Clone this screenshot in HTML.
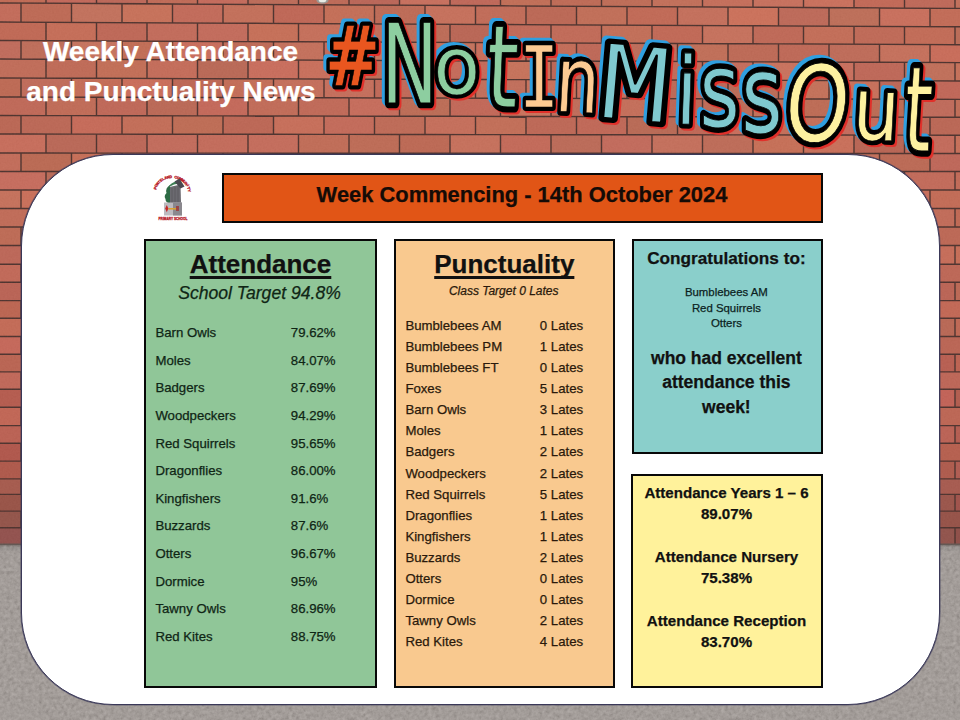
<!DOCTYPE html>
<html><head><meta charset="utf-8"><title>Weekly Attendance and Punctuality News</title>
<style>
html,body{margin:0;padding:0;}
body{width:960px;height:720px;overflow:hidden;position:relative;background:#8f8885;font-family:"Liberation Sans",sans-serif;}
.t{position:absolute;white-space:nowrap;line-height:1;-webkit-text-stroke:0.25px currentColor;}
.t u{text-decoration-thickness:2.5px;text-underline-offset:3px;text-decoration-skip-ink:none;}
#bg{position:absolute;left:0;top:0;}
#panel{position:absolute;left:21px;top:154px;width:917px;height:549px;background:#fff;border:1px solid #3a3858;border-radius:92px;box-shadow:0 0 0 0.6px rgba(58,56,88,0.6);}
.box{position:absolute;box-sizing:border-box;border:2.3px solid #080808;}
#logo{position:absolute;left:0;top:0;}
</style></head><body>
<svg id="bg" width="960" height="720" viewBox="0 0 960 720">
<rect x="0" y="0" width="960" height="545" fill="#482b26"/>
<polygon points="-54.3,-14.8 -5.2,-14.8 -5.2,2.3 -54.3,2.3" fill="rgb(192,103,81)"/><polygon points="-3.8,-14.8 45.3,-14.5 45.3,2.6 -3.8,2.3" fill="rgb(193,102,79)"/><polygon points="46.7,-14.5 95.8,-14.2 95.8,2.8 46.7,2.6" fill="rgb(195,100,85)"/><polygon points="97.2,-14.2 146.3,-13.9 146.3,3.1 97.2,2.8" fill="rgb(189,99,83)"/><polygon points="147.7,-13.9 196.8,-13.6 196.8,3.4 147.7,3.1" fill="rgb(192,102,81)"/><polygon points="198.2,-13.6 247.3,-13.3 247.3,3.7 198.2,3.4" fill="rgb(197,102,86)"/><polygon points="248.7,-13.2 297.8,-12.9 297.8,4.0 248.7,3.7" fill="rgb(188,103,83)"/><polygon points="299.2,-12.9 348.3,-12.6 348.3,4.3 299.2,4.0" fill="rgb(190,101,81)"/><polygon points="349.7,-12.6 398.8,-12.3 398.8,4.5 349.7,4.3" fill="rgb(187,97,82)"/><polygon points="400.2,-12.3 449.3,-12.0 449.3,4.8 400.2,4.6" fill="rgb(200,107,88)"/><polygon points="450.7,-12.0 499.8,-11.7 499.8,5.1 450.7,4.8" fill="rgb(192,99,83)"/><polygon points="501.2,-11.7 550.3,-11.4 550.3,5.4 501.2,5.1" fill="rgb(194,106,81)"/><polygon points="551.7,-11.4 600.8,-11.0 600.8,5.7 551.7,5.4" fill="rgb(191,102,80)"/><polygon points="602.2,-11.0 651.3,-10.7 651.3,6.0 602.2,5.7" fill="rgb(191,104,81)"/><polygon points="652.7,-10.7 701.8,-10.4 701.8,6.2 652.7,6.0" fill="rgb(195,107,84)"/><polygon points="703.2,-10.4 752.3,-10.1 752.3,6.5 703.2,6.3" fill="rgb(198,106,85)"/><polygon points="753.7,-10.1 802.8,-9.8 802.8,6.8 753.7,6.5" fill="rgb(200,108,88)"/><polygon points="804.2,-9.8 853.3,-9.5 853.3,7.1 804.2,6.8" fill="rgb(203,108,87)"/><polygon points="854.7,-9.5 903.8,-9.1 903.8,7.4 854.7,7.1" fill="rgb(195,100,81)"/><polygon points="905.2,-9.1 954.3,-8.8 954.3,7.7 905.2,7.4" fill="rgb(191,100,83)"/><polygon points="955.7,-8.8 1004.8,-8.5 1004.8,8.0 955.7,7.7" fill="rgb(195,107,85)"/><polygon points="-79.3,3.7 -30.2,3.7 -30.2,21.3 -79.3,21.3" fill="rgb(193,100,80)"/><polygon points="-28.8,3.7 20.3,3.8 20.3,21.4 -28.8,21.3" fill="rgb(196,103,84)"/><polygon points="21.7,3.8 70.8,4.1 70.8,21.7 21.7,21.4" fill="rgb(190,101,79)"/><polygon points="72.2,4.1 121.3,4.4 121.3,21.9 72.2,21.7" fill="rgb(195,109,87)"/><polygon points="122.7,4.4 171.8,4.7 171.8,22.2 122.7,21.9" fill="rgb(200,109,84)"/><polygon points="173.2,4.7 222.3,5.0 222.3,22.4 173.2,22.2" fill="rgb(195,102,84)"/><polygon points="223.7,5.0 272.8,5.2 272.8,22.7 223.7,22.4" fill="rgb(196,107,84)"/><polygon points="274.2,5.2 323.3,5.5 323.3,22.9 274.2,22.7" fill="rgb(192,98,80)"/><polygon points="324.7,5.5 373.8,5.8 373.8,23.2 324.7,22.9" fill="rgb(197,106,81)"/><polygon points="375.2,5.8 424.3,6.1 424.3,23.4 375.2,23.2" fill="rgb(190,102,80)"/><polygon points="425.7,6.1 474.8,6.4 474.8,23.7 425.7,23.4" fill="rgb(199,108,86)"/><polygon points="476.2,6.4 525.3,6.7 525.3,23.9 476.2,23.7" fill="rgb(194,103,82)"/><polygon points="526.7,6.7 575.8,6.9 575.8,24.2 526.7,23.9" fill="rgb(188,99,79)"/><polygon points="577.2,6.9 626.3,7.2 626.3,24.4 577.2,24.2" fill="rgb(194,106,82)"/><polygon points="627.7,7.2 676.8,7.5 676.8,24.7 627.7,24.4" fill="rgb(194,101,80)"/><polygon points="678.2,7.5 727.3,7.8 727.3,24.9 678.2,24.7" fill="rgb(197,107,86)"/><polygon points="728.7,7.8 777.8,8.1 777.8,25.2 728.7,24.9" fill="rgb(205,109,85)"/><polygon points="779.2,8.1 828.3,8.4 828.3,25.4 779.2,25.2" fill="rgb(190,101,83)"/><polygon points="829.7,8.4 878.8,8.6 878.8,25.7 829.7,25.4" fill="rgb(190,106,83)"/><polygon points="880.2,8.7 929.3,8.9 929.3,25.9 880.2,25.7" fill="rgb(202,107,87)"/><polygon points="930.7,8.9 979.8,9.2 979.8,26.2 930.7,25.9" fill="rgb(195,103,81)"/><polygon points="-54.3,22.7 -5.2,22.7 -5.2,39.8 -54.3,39.8" fill="rgb(187,99,80)"/><polygon points="-3.8,22.7 45.3,22.9 45.3,40.0 -3.8,39.8" fill="rgb(193,100,79)"/><polygon points="46.7,22.9 95.8,23.2 95.8,40.2 46.7,40.0" fill="rgb(198,105,82)"/><polygon points="97.2,23.2 146.3,23.4 146.3,40.4 97.2,40.2" fill="rgb(191,99,81)"/><polygon points="147.7,23.4 196.8,23.7 196.8,40.7 147.7,40.4" fill="rgb(195,103,85)"/><polygon points="198.2,23.7 247.3,23.9 247.3,40.9 198.2,40.7" fill="rgb(196,103,86)"/><polygon points="248.7,23.9 297.8,24.2 297.8,41.1 248.7,40.9" fill="rgb(199,107,82)"/><polygon points="299.2,24.2 348.3,24.4 348.3,41.3 299.2,41.1" fill="rgb(198,107,85)"/><polygon points="349.7,24.4 398.8,24.7 398.8,41.5 349.7,41.3" fill="rgb(194,104,84)"/><polygon points="400.2,24.7 449.3,24.9 449.3,41.8 400.2,41.5" fill="rgb(189,103,81)"/><polygon points="450.7,24.9 499.8,25.2 499.8,42.0 450.7,41.8" fill="rgb(186,97,79)"/><polygon points="501.2,25.2 550.3,25.4 550.3,42.2 501.2,42.0" fill="rgb(193,101,83)"/><polygon points="551.7,25.5 600.8,25.7 600.8,42.4 551.7,42.2" fill="rgb(194,102,82)"/><polygon points="602.2,25.7 651.3,25.9 651.3,42.6 602.2,42.4" fill="rgb(195,106,82)"/><polygon points="652.7,26.0 701.8,26.2 701.8,42.9 652.7,42.6" fill="rgb(194,100,80)"/><polygon points="703.2,26.2 752.3,26.5 752.3,43.1 703.2,42.9" fill="rgb(199,109,87)"/><polygon points="753.7,26.5 802.8,26.7 802.8,43.3 753.7,43.1" fill="rgb(192,100,81)"/><polygon points="804.2,26.7 853.3,27.0 853.3,43.5 804.2,43.3" fill="rgb(196,105,82)"/><polygon points="854.7,27.0 903.8,27.2 903.8,43.7 854.7,43.5" fill="rgb(192,101,81)"/><polygon points="905.2,27.2 954.3,27.5 954.3,44.0 905.2,43.8" fill="rgb(195,103,81)"/><polygon points="955.7,27.5 1004.8,27.7 1004.8,44.2 955.7,44.0" fill="rgb(187,103,81)"/><polygon points="-79.3,41.2 -30.2,41.2 -30.2,58.3 -79.3,58.3" fill="rgb(198,106,84)"/><polygon points="-28.8,41.2 20.3,41.3 20.3,58.4 -28.8,58.3" fill="rgb(193,103,86)"/><polygon points="21.7,41.3 70.8,41.5 70.8,58.6 21.7,58.4" fill="rgb(191,105,84)"/><polygon points="72.2,41.5 121.3,41.7 121.3,58.8 72.2,58.6" fill="rgb(199,111,89)"/><polygon points="122.7,41.7 171.8,41.9 171.8,58.9 122.7,58.8" fill="rgb(194,105,80)"/><polygon points="173.2,42.0 222.3,42.2 222.3,59.1 173.2,58.9" fill="rgb(202,105,87)"/><polygon points="223.7,42.2 272.8,42.4 272.8,59.3 223.7,59.1" fill="rgb(191,102,81)"/><polygon points="274.2,42.4 323.3,42.6 323.3,59.5 274.2,59.3" fill="rgb(197,108,86)"/><polygon points="324.7,42.6 373.8,42.8 373.8,59.7 324.7,59.5" fill="rgb(195,101,84)"/><polygon points="375.2,42.8 424.3,43.1 424.3,59.9 375.2,59.7" fill="rgb(203,110,85)"/><polygon points="425.7,43.1 474.8,43.3 474.8,60.1 425.7,59.9" fill="rgb(198,110,87)"/><polygon points="476.2,43.3 525.3,43.5 525.3,60.3 476.2,60.1" fill="rgb(202,104,84)"/><polygon points="526.7,43.5 575.8,43.7 575.8,60.5 526.7,60.3" fill="rgb(196,104,82)"/><polygon points="577.2,43.7 626.3,43.9 626.3,60.6 577.2,60.5" fill="rgb(191,99,81)"/><polygon points="627.7,43.9 676.8,44.2 676.8,60.8 627.7,60.6" fill="rgb(190,104,84)"/><polygon points="678.2,44.2 727.3,44.4 727.3,61.0 678.2,60.8" fill="rgb(193,106,82)"/><polygon points="728.7,44.4 777.8,44.6 777.8,61.2 728.7,61.0" fill="rgb(190,101,80)"/><polygon points="779.2,44.6 828.3,44.8 828.3,61.4 779.2,61.2" fill="rgb(191,100,81)"/><polygon points="829.7,44.8 878.8,45.0 878.8,61.6 829.7,61.4" fill="rgb(191,103,83)"/><polygon points="880.2,45.0 929.3,45.3 929.3,61.8 880.2,61.6" fill="rgb(198,108,86)"/><polygon points="930.7,45.3 979.8,45.5 979.8,62.0 930.7,61.8" fill="rgb(202,104,84)"/><polygon points="-54.3,59.7 -5.2,59.7 -5.2,77.3 -54.3,77.3" fill="rgb(202,111,85)"/><polygon points="-3.8,59.7 45.3,59.9 45.3,77.4 -3.8,77.3" fill="rgb(193,104,83)"/><polygon points="46.7,59.9 95.8,60.1 95.8,77.6 46.7,77.4" fill="rgb(192,102,81)"/><polygon points="97.2,60.1 146.3,60.2 146.3,77.8 97.2,77.6" fill="rgb(195,106,81)"/><polygon points="147.7,60.3 196.8,60.4 196.8,77.9 147.7,77.8" fill="rgb(197,104,84)"/><polygon points="198.2,60.4 247.3,60.6 247.3,78.1 198.2,77.9" fill="rgb(186,100,80)"/><polygon points="248.7,60.6 297.8,60.8 297.8,78.2 248.7,78.1" fill="rgb(202,105,87)"/><polygon points="299.2,60.8 348.3,61.0 348.3,78.4 299.2,78.2" fill="rgb(202,107,86)"/><polygon points="349.7,61.0 398.8,61.2 398.8,78.5 349.7,78.4" fill="rgb(191,102,79)"/><polygon points="400.2,61.2 449.3,61.4 449.3,78.7 400.2,78.5" fill="rgb(185,102,77)"/><polygon points="450.7,61.4 499.8,61.6 499.8,78.8 450.7,78.7" fill="rgb(198,102,84)"/><polygon points="501.2,61.6 550.3,61.8 550.3,79.0 501.2,78.9" fill="rgb(199,110,85)"/><polygon points="551.7,61.8 600.8,61.9 600.8,79.2 551.7,79.0" fill="rgb(187,97,79)"/><polygon points="602.2,62.0 651.3,62.1 651.3,79.3 602.2,79.2" fill="rgb(194,107,85)"/><polygon points="652.7,62.1 701.8,62.3 701.8,79.5 652.7,79.3" fill="rgb(192,103,83)"/><polygon points="703.2,62.3 752.3,62.5 752.3,79.6 703.2,79.5" fill="rgb(199,104,86)"/><polygon points="753.7,62.5 802.8,62.7 802.8,79.8 753.7,79.6" fill="rgb(202,110,88)"/><polygon points="804.2,62.7 853.3,62.9 853.3,79.9 804.2,79.8" fill="rgb(202,107,88)"/><polygon points="854.7,62.9 903.8,63.1 903.8,80.1 854.7,79.9" fill="rgb(191,99,82)"/><polygon points="905.2,63.1 954.3,63.3 954.3,80.3 905.2,80.1" fill="rgb(193,107,84)"/><polygon points="955.7,63.3 1004.8,63.5 1004.8,80.4 955.7,80.3" fill="rgb(198,108,83)"/><polygon points="-79.3,78.7 -30.2,78.7 -30.2,96.3 -79.3,96.3" fill="rgb(203,104,84)"/><polygon points="-28.8,78.7 20.3,78.8 20.3,96.3 -28.8,96.3" fill="rgb(190,101,78)"/><polygon points="21.7,78.8 70.8,78.9 70.8,96.5 21.7,96.4" fill="rgb(193,103,85)"/><polygon points="72.2,78.9 121.3,79.1 121.3,96.6 72.2,96.5" fill="rgb(197,104,81)"/><polygon points="122.7,79.1 171.8,79.2 171.8,96.7 122.7,96.6" fill="rgb(203,105,85)"/><polygon points="173.2,79.2 222.3,79.4 222.3,96.8 173.2,96.7" fill="rgb(190,98,79)"/><polygon points="223.7,79.4 272.8,79.5 272.8,97.0 223.7,96.9" fill="rgb(196,105,81)"/><polygon points="274.2,79.6 323.3,79.7 323.3,97.1 274.2,97.0" fill="rgb(197,106,85)"/><polygon points="324.7,79.7 373.8,79.9 373.8,97.2 324.7,97.1" fill="rgb(198,106,86)"/><polygon points="375.2,79.9 424.3,80.0 424.3,97.3 375.2,97.2" fill="rgb(193,100,82)"/><polygon points="425.7,80.0 474.8,80.2 474.8,97.5 425.7,97.3" fill="rgb(197,107,84)"/><polygon points="476.2,80.2 525.3,80.3 525.3,97.6 476.2,97.5" fill="rgb(194,106,85)"/><polygon points="526.7,80.3 575.8,80.5 575.8,97.7 526.7,97.6" fill="rgb(201,109,85)"/><polygon points="577.2,80.5 626.3,80.6 626.3,97.8 577.2,97.7" fill="rgb(201,105,87)"/><polygon points="627.7,80.6 676.8,80.8 676.8,98.0 627.7,97.8" fill="rgb(189,100,80)"/><polygon points="678.2,80.8 727.3,81.0 727.3,98.1 678.2,98.0" fill="rgb(191,98,81)"/><polygon points="728.7,81.0 777.8,81.1 777.8,98.2 728.7,98.1" fill="rgb(187,102,80)"/><polygon points="779.2,81.1 828.3,81.3 828.3,98.3 779.2,98.2" fill="rgb(197,109,84)"/><polygon points="829.7,81.3 878.8,81.4 878.8,98.5 829.7,98.3" fill="rgb(201,108,85)"/><polygon points="880.2,81.4 929.3,81.6 929.3,98.6 880.2,98.5" fill="rgb(189,98,81)"/><polygon points="930.7,81.6 979.8,81.7 979.8,98.7 930.7,98.6" fill="rgb(193,98,82)"/><polygon points="-54.3,97.7 -5.2,97.7 -5.2,114.8 -54.3,114.8" fill="rgb(202,105,85)"/><polygon points="-3.8,97.7 45.3,97.8 45.3,114.9 -3.8,114.8" fill="rgb(192,100,82)"/><polygon points="46.7,97.8 95.8,97.9 95.8,115.0 46.7,114.9" fill="rgb(193,103,81)"/><polygon points="97.2,97.9 146.3,98.1 146.3,115.1 97.2,115.0" fill="rgb(192,99,82)"/><polygon points="147.7,98.1 196.8,98.2 196.8,115.2 147.7,115.1" fill="rgb(187,100,80)"/><polygon points="198.2,98.2 247.3,98.3 247.3,115.3 198.2,115.2" fill="rgb(197,100,84)"/><polygon points="248.7,98.3 297.8,98.4 297.8,115.3 248.7,115.3" fill="rgb(194,103,82)"/><polygon points="299.2,98.4 348.3,98.6 348.3,115.4 299.2,115.3" fill="rgb(193,101,82)"/><polygon points="349.7,98.6 398.8,98.7 398.8,115.5 349.7,115.4" fill="rgb(199,104,86)"/><polygon points="400.2,98.7 449.3,98.8 449.3,115.6 400.2,115.5" fill="rgb(189,104,80)"/><polygon points="450.7,98.8 499.8,98.9 499.8,115.7 450.7,115.6" fill="rgb(195,99,82)"/><polygon points="501.2,98.9 550.3,99.1 550.3,115.8 501.2,115.7" fill="rgb(203,110,86)"/><polygon points="551.7,99.1 600.8,99.2 600.8,115.9 551.7,115.8" fill="rgb(192,104,84)"/><polygon points="602.2,99.2 651.3,99.3 651.3,116.0 602.2,115.9" fill="rgb(197,106,84)"/><polygon points="652.7,99.3 701.8,99.4 701.8,116.1 652.7,116.0" fill="rgb(188,97,79)"/><polygon points="703.2,99.4 752.3,99.6 752.3,116.2 703.2,116.1" fill="rgb(191,102,80)"/><polygon points="753.7,99.6 802.8,99.7 802.8,116.3 753.7,116.2" fill="rgb(195,108,84)"/><polygon points="804.2,99.7 853.3,99.8 853.3,116.4 804.2,116.3" fill="rgb(190,103,79)"/><polygon points="854.7,99.8 903.8,99.9 903.8,116.5 854.7,116.4" fill="rgb(188,103,78)"/><polygon points="905.2,99.9 954.3,100.0 954.3,116.6 905.2,116.5" fill="rgb(192,102,85)"/><polygon points="955.7,100.1 1004.8,100.2 1004.8,116.6 955.7,116.6" fill="rgb(193,104,81)"/><polygon points="-79.3,116.2 -30.2,116.2 -30.2,133.3 -79.3,133.3" fill="rgb(189,101,78)"/><polygon points="-28.8,116.2 20.3,116.2 20.3,133.3 -28.8,133.3" fill="rgb(187,98,78)"/><polygon points="21.7,116.2 70.8,116.3 70.8,133.4 21.7,133.3" fill="rgb(188,99,80)"/><polygon points="72.2,116.3 121.3,116.4 121.3,133.4 72.2,133.4" fill="rgb(199,102,83)"/><polygon points="122.7,116.4 171.8,116.5 171.8,133.5 122.7,133.4" fill="rgb(196,105,82)"/><polygon points="173.2,116.5 222.3,116.6 222.3,133.6 173.2,133.5" fill="rgb(191,104,79)"/><polygon points="223.7,116.6 272.8,116.7 272.8,133.6 223.7,133.6" fill="rgb(189,98,79)"/><polygon points="274.2,116.7 323.3,116.8 323.3,133.7 274.2,133.6" fill="rgb(200,106,84)"/><polygon points="324.7,116.8 373.8,116.9 373.8,133.8 324.7,133.7" fill="rgb(196,102,84)"/><polygon points="375.2,116.9 424.3,117.0 424.3,133.8 375.2,133.8" fill="rgb(191,102,81)"/><polygon points="425.7,117.0 474.8,117.1 474.8,133.9 425.7,133.8" fill="rgb(198,106,85)"/><polygon points="476.2,117.1 525.3,117.2 525.3,133.9 476.2,133.9" fill="rgb(195,106,82)"/><polygon points="526.7,117.2 575.8,117.3 575.8,134.0 526.7,133.9" fill="rgb(190,99,80)"/><polygon points="577.2,117.3 626.3,117.4 626.3,134.1 577.2,134.0" fill="rgb(193,99,81)"/><polygon points="627.7,117.4 676.8,117.4 676.8,134.1 627.7,134.1" fill="rgb(185,101,79)"/><polygon points="678.2,117.4 727.3,117.5 727.3,134.2 678.2,134.1" fill="rgb(192,99,80)"/><polygon points="728.7,117.5 777.8,117.6 777.8,134.2 728.7,134.2" fill="rgb(201,105,86)"/><polygon points="779.2,117.6 828.3,117.7 828.3,134.3 779.2,134.2" fill="rgb(197,106,83)"/><polygon points="829.7,117.7 878.8,117.8 878.8,134.4 829.7,134.3" fill="rgb(198,102,86)"/><polygon points="880.2,117.8 929.3,117.9 929.3,134.4 880.2,134.4" fill="rgb(188,99,81)"/><polygon points="930.7,117.9 979.8,118.0 979.8,134.5 930.7,134.4" fill="rgb(187,98,79)"/><polygon points="-54.3,134.7 -5.2,134.7 -5.2,152.3 -54.3,152.3" fill="rgb(194,101,81)"/><polygon points="-3.8,134.7 45.3,134.8 45.3,152.3 -3.8,152.3" fill="rgb(200,105,86)"/><polygon points="46.7,134.8 95.8,134.8 95.8,152.4 46.7,152.3" fill="rgb(186,99,81)"/><polygon points="97.2,134.8 146.3,134.9 146.3,152.4 97.2,152.4" fill="rgb(188,98,81)"/><polygon points="147.7,134.9 196.8,134.9 196.8,152.4 147.7,152.4" fill="rgb(195,103,86)"/><polygon points="198.2,134.9 247.3,135.0 247.3,152.4 198.2,152.4" fill="rgb(196,103,85)"/><polygon points="248.7,135.0 297.8,135.1 297.8,152.5 248.7,152.4" fill="rgb(197,104,86)"/><polygon points="299.2,135.1 348.3,135.1 348.3,152.5 299.2,152.5" fill="rgb(193,104,81)"/><polygon points="349.7,135.1 398.8,135.2 398.8,152.5 349.7,152.5" fill="rgb(190,103,80)"/><polygon points="400.2,135.2 449.3,135.2 449.3,152.6 400.2,152.5" fill="rgb(189,100,78)"/><polygon points="450.7,135.2 499.8,135.3 499.8,152.6 450.7,152.6" fill="rgb(199,108,86)"/><polygon points="501.2,135.3 550.3,135.4 550.3,152.6 501.2,152.6" fill="rgb(196,101,83)"/><polygon points="551.7,135.4 600.8,135.4 600.8,152.6 551.7,152.6" fill="rgb(188,102,82)"/><polygon points="602.2,135.4 651.3,135.5 651.3,152.7 602.2,152.6" fill="rgb(195,102,86)"/><polygon points="652.7,135.5 701.8,135.6 701.8,152.7 652.7,152.7" fill="rgb(197,107,86)"/><polygon points="703.2,135.6 752.3,135.6 752.3,152.7 703.2,152.7" fill="rgb(190,103,82)"/><polygon points="753.7,135.6 802.8,135.7 802.8,152.8 753.7,152.7" fill="rgb(199,107,81)"/><polygon points="804.2,135.7 853.3,135.7 853.3,152.8 804.2,152.8" fill="rgb(202,107,84)"/><polygon points="854.7,135.7 903.8,135.8 903.8,152.8 854.7,152.8" fill="rgb(185,96,78)"/><polygon points="905.2,135.8 954.3,135.9 954.3,152.8 905.2,152.8" fill="rgb(196,102,85)"/><polygon points="955.7,135.9 1004.8,135.9 1004.8,152.9 955.7,152.8" fill="rgb(200,107,83)"/><polygon points="-79.3,153.7 -30.2,153.7 -30.2,170.8 -79.3,170.8" fill="rgb(194,106,86)"/><polygon points="-28.8,153.7 20.3,153.7 20.3,170.8 -28.8,170.8" fill="rgb(195,104,84)"/><polygon points="21.7,153.7 70.8,153.7 70.8,170.8 21.7,170.8" fill="rgb(187,101,77)"/><polygon points="72.2,153.7 121.3,153.8 121.3,170.8 72.2,170.8" fill="rgb(199,106,82)"/><polygon points="122.7,153.8 171.8,153.8 171.8,170.8 122.7,170.8" fill="rgb(198,101,85)"/><polygon points="173.2,153.8 222.3,153.8 222.3,170.8 173.2,170.8" fill="rgb(194,98,81)"/><polygon points="223.7,153.8 272.8,153.9 272.8,170.8 223.7,170.8" fill="rgb(192,103,79)"/><polygon points="274.2,153.9 323.3,153.9 323.3,170.8 274.2,170.8" fill="rgb(192,102,81)"/><polygon points="324.7,153.9 373.8,153.9 373.8,170.8 324.7,170.8" fill="rgb(197,103,80)"/><polygon points="375.2,153.9 424.3,153.9 424.3,170.8 375.2,170.8" fill="rgb(196,102,80)"/><polygon points="425.7,153.9 474.8,154.0 474.8,170.8 425.7,170.8" fill="rgb(198,106,82)"/><polygon points="476.2,154.0 525.3,154.0 525.3,170.8 476.2,170.8" fill="rgb(189,97,79)"/><polygon points="526.7,154.0 575.8,154.0 575.8,170.8 526.7,170.8" fill="rgb(193,103,81)"/><polygon points="577.2,154.0 626.3,154.1 626.3,170.8 577.2,170.8" fill="rgb(197,102,81)"/><polygon points="627.7,154.1 676.8,154.1 676.8,170.8 627.7,170.8" fill="rgb(191,103,82)"/><polygon points="678.2,154.1 727.3,154.1 727.3,170.8 678.2,170.8" fill="rgb(194,106,83)"/><polygon points="728.7,154.1 777.8,154.1 777.8,170.8 728.7,170.8" fill="rgb(197,103,86)"/><polygon points="779.2,154.1 828.3,154.2 828.3,170.8 779.2,170.8" fill="rgb(191,101,82)"/><polygon points="829.7,154.2 878.8,154.2 878.8,170.8 829.7,170.8" fill="rgb(196,107,84)"/><polygon points="880.2,154.2 929.3,154.2 929.3,170.8 880.2,170.8" fill="rgb(188,101,79)"/><polygon points="930.7,154.2 979.8,154.3 979.8,170.8 930.7,170.8" fill="rgb(191,98,83)"/><polygon points="-54.3,172.2 -5.2,172.2 -5.2,189.3 -54.3,189.3" fill="rgb(193,102,81)"/><polygon points="-3.8,172.2 45.3,172.2 45.3,189.3 -3.8,189.3" fill="rgb(199,104,88)"/><polygon points="46.7,172.2 95.8,172.2 95.8,189.3 46.7,189.3" fill="rgb(186,101,81)"/><polygon points="97.2,172.2 146.3,172.2 146.3,189.3 97.2,189.3" fill="rgb(190,99,83)"/><polygon points="147.7,172.2 196.8,172.2 196.8,189.3 147.7,189.3" fill="rgb(202,107,85)"/><polygon points="198.2,172.2 247.3,172.2 247.3,189.3 198.2,189.3" fill="rgb(198,109,86)"/><polygon points="248.7,172.2 297.8,172.2 297.8,189.3 248.7,189.3" fill="rgb(190,100,81)"/><polygon points="299.2,172.2 348.3,172.2 348.3,189.3 299.2,189.3" fill="rgb(185,95,80)"/><polygon points="349.7,172.2 398.8,172.2 398.8,189.3 349.7,189.3" fill="rgb(197,104,84)"/><polygon points="400.2,172.2 449.3,172.2 449.3,189.3 400.2,189.3" fill="rgb(196,105,84)"/><polygon points="450.7,172.2 499.8,172.2 499.8,189.3 450.7,189.3" fill="rgb(192,99,82)"/><polygon points="501.2,172.2 550.3,172.2 550.3,189.3 501.2,189.3" fill="rgb(186,101,79)"/><polygon points="551.7,172.2 600.8,172.2 600.8,189.3 551.7,189.3" fill="rgb(200,103,84)"/><polygon points="602.2,172.2 651.3,172.2 651.3,189.3 602.2,189.3" fill="rgb(195,107,84)"/><polygon points="652.7,172.2 701.8,172.2 701.8,189.3 652.7,189.3" fill="rgb(190,98,82)"/><polygon points="703.2,172.2 752.3,172.2 752.3,189.3 703.2,189.3" fill="rgb(196,103,80)"/><polygon points="753.7,172.2 802.8,172.2 802.8,189.3 753.7,189.3" fill="rgb(192,104,81)"/><polygon points="804.2,172.2 853.3,172.2 853.3,189.3 804.2,189.3" fill="rgb(197,105,83)"/><polygon points="854.7,172.2 903.8,172.2 903.8,189.3 854.7,189.3" fill="rgb(190,100,79)"/><polygon points="905.2,172.2 954.3,172.2 954.3,189.3 905.2,189.3" fill="rgb(195,102,84)"/><polygon points="955.7,172.2 1004.8,172.2 1004.8,189.3 955.7,189.3" fill="rgb(194,101,81)"/><polygon points="-79.3,190.7 -30.2,190.7 -30.2,207.8 -79.3,207.8" fill="rgb(198,108,85)"/><polygon points="-28.8,190.7 20.3,190.7 20.3,207.8 -28.8,207.8" fill="rgb(198,109,86)"/><polygon points="21.7,190.7 70.8,190.7 70.8,207.8 21.7,207.8" fill="rgb(202,107,84)"/><polygon points="72.2,190.7 121.3,190.7 121.3,207.8 72.2,207.8" fill="rgb(195,102,85)"/><polygon points="122.7,190.7 171.8,190.7 171.8,207.8 122.7,207.8" fill="rgb(195,105,81)"/><polygon points="173.2,190.7 222.3,190.7 222.3,207.8 173.2,207.8" fill="rgb(200,103,84)"/><polygon points="223.7,190.7 272.8,190.7 272.8,207.8 223.7,207.8" fill="rgb(188,96,77)"/><polygon points="274.2,190.7 323.3,190.7 323.3,207.8 274.2,207.8" fill="rgb(194,101,82)"/><polygon points="324.7,190.7 373.8,190.7 373.8,207.8 324.7,207.8" fill="rgb(190,102,80)"/><polygon points="375.2,190.7 424.3,190.7 424.3,207.8 375.2,207.8" fill="rgb(195,100,81)"/><polygon points="425.7,190.7 474.8,190.7 474.8,207.8 425.7,207.8" fill="rgb(195,104,83)"/><polygon points="476.2,190.7 525.3,190.7 525.3,207.8 476.2,207.8" fill="rgb(186,101,78)"/><polygon points="526.7,190.7 575.8,190.7 575.8,207.8 526.7,207.8" fill="rgb(186,100,80)"/><polygon points="577.2,190.7 626.3,190.7 626.3,207.8 577.2,207.8" fill="rgb(193,103,82)"/><polygon points="627.7,190.7 676.8,190.7 676.8,207.8 627.7,207.8" fill="rgb(199,105,83)"/><polygon points="678.2,190.7 727.3,190.7 727.3,207.8 678.2,207.8" fill="rgb(193,101,80)"/><polygon points="728.7,190.7 777.8,190.7 777.8,207.8 728.7,207.8" fill="rgb(188,100,77)"/><polygon points="779.2,190.7 828.3,190.7 828.3,207.8 779.2,207.8" fill="rgb(190,100,81)"/><polygon points="829.7,190.7 878.8,190.7 878.8,207.8 829.7,207.8" fill="rgb(200,103,82)"/><polygon points="880.2,190.7 929.3,190.7 929.3,207.8 880.2,207.8" fill="rgb(201,105,85)"/><polygon points="930.7,190.7 979.8,190.7 979.8,207.8 930.7,207.8" fill="rgb(195,103,80)"/><polygon points="-54.3,209.2 -5.2,209.2 -5.2,226.3 -54.3,226.3" fill="rgb(192,100,79)"/><polygon points="-3.8,209.2 45.3,209.2 45.3,226.3 -3.8,226.3" fill="rgb(193,103,82)"/><polygon points="46.7,209.2 95.8,209.2 95.8,226.3 46.7,226.3" fill="rgb(191,100,81)"/><polygon points="97.2,209.2 146.3,209.2 146.3,226.3 97.2,226.3" fill="rgb(200,107,82)"/><polygon points="147.7,209.2 196.8,209.2 196.8,226.3 147.7,226.3" fill="rgb(187,96,80)"/><polygon points="198.2,209.2 247.3,209.2 247.3,226.3 198.2,226.3" fill="rgb(195,101,82)"/><polygon points="248.7,209.2 297.8,209.2 297.8,226.3 248.7,226.3" fill="rgb(194,103,78)"/><polygon points="299.2,209.2 348.3,209.2 348.3,226.3 299.2,226.3" fill="rgb(186,99,80)"/><polygon points="349.7,209.2 398.8,209.2 398.8,226.3 349.7,226.3" fill="rgb(196,100,81)"/><polygon points="400.2,209.2 449.3,209.2 449.3,226.3 400.2,226.3" fill="rgb(196,102,82)"/><polygon points="450.7,209.2 499.8,209.2 499.8,226.3 450.7,226.3" fill="rgb(192,105,80)"/><polygon points="501.2,209.2 550.3,209.2 550.3,226.3 501.2,226.3" fill="rgb(188,97,82)"/><polygon points="551.7,209.2 600.8,209.2 600.8,226.3 551.7,226.3" fill="rgb(194,107,84)"/><polygon points="602.2,209.2 651.3,209.2 651.3,226.3 602.2,226.3" fill="rgb(189,101,77)"/><polygon points="652.7,209.2 701.8,209.2 701.8,226.3 652.7,226.3" fill="rgb(190,96,77)"/><polygon points="703.2,209.2 752.3,209.2 752.3,226.3 703.2,226.3" fill="rgb(193,105,83)"/><polygon points="753.7,209.2 802.8,209.2 802.8,226.3 753.7,226.3" fill="rgb(191,98,81)"/><polygon points="804.2,209.2 853.3,209.2 853.3,226.3 804.2,226.3" fill="rgb(197,106,81)"/><polygon points="854.7,209.2 903.8,209.2 903.8,226.3 854.7,226.3" fill="rgb(185,97,81)"/><polygon points="905.2,209.2 954.3,209.2 954.3,226.3 905.2,226.3" fill="rgb(194,103,83)"/><polygon points="955.7,209.2 1004.8,209.2 1004.8,226.3 955.7,226.3" fill="rgb(193,100,78)"/><polygon points="-79.3,227.7 -30.2,227.7 -30.2,244.8 -79.3,244.8" fill="rgb(188,96,79)"/><polygon points="-28.8,227.7 20.3,227.7 20.3,244.8 -28.8,244.8" fill="rgb(190,102,79)"/><polygon points="21.7,227.7 70.8,227.7 70.8,244.8 21.7,244.8" fill="rgb(195,100,84)"/><polygon points="72.2,227.7 121.3,227.7 121.3,244.8 72.2,244.8" fill="rgb(187,99,80)"/><polygon points="122.7,227.7 171.8,227.7 171.8,244.8 122.7,244.8" fill="rgb(184,95,79)"/><polygon points="173.2,227.7 222.3,227.7 222.3,244.8 173.2,244.8" fill="rgb(203,108,86)"/><polygon points="223.7,227.7 272.8,227.7 272.8,244.8 223.7,244.8" fill="rgb(187,96,80)"/><polygon points="274.2,227.7 323.3,227.7 323.3,244.8 274.2,244.8" fill="rgb(200,104,86)"/><polygon points="324.7,227.7 373.8,227.7 373.8,244.8 324.7,244.8" fill="rgb(189,96,79)"/><polygon points="375.2,227.7 424.3,227.7 424.3,244.8 375.2,244.8" fill="rgb(194,100,80)"/><polygon points="425.7,227.7 474.8,227.7 474.8,244.8 425.7,244.8" fill="rgb(190,96,80)"/><polygon points="476.2,227.7 525.3,227.7 525.3,244.8 476.2,244.8" fill="rgb(186,98,78)"/><polygon points="526.7,227.7 575.8,227.7 575.8,244.8 526.7,244.8" fill="rgb(194,103,79)"/><polygon points="577.2,227.7 626.3,227.7 626.3,244.8 577.2,244.8" fill="rgb(190,97,80)"/><polygon points="627.7,227.7 676.8,227.7 676.8,244.8 627.7,244.8" fill="rgb(198,102,86)"/><polygon points="678.2,227.7 727.3,227.7 727.3,244.8 678.2,244.8" fill="rgb(195,100,81)"/><polygon points="728.7,227.7 777.8,227.7 777.8,244.8 728.7,244.8" fill="rgb(194,104,80)"/><polygon points="779.2,227.7 828.3,227.7 828.3,244.8 779.2,244.8" fill="rgb(194,103,81)"/><polygon points="829.7,227.7 878.8,227.7 878.8,244.8 829.7,244.8" fill="rgb(187,100,79)"/><polygon points="880.2,227.7 929.3,227.7 929.3,244.8 880.2,244.8" fill="rgb(190,103,79)"/><polygon points="930.7,227.7 979.8,227.7 979.8,244.8 930.7,244.8" fill="rgb(189,99,79)"/><polygon points="-54.3,246.2 -5.2,246.2 -5.2,263.5 -54.3,263.5" fill="rgb(194,101,82)"/><polygon points="-3.8,246.2 45.3,246.2 45.3,263.5 -3.8,263.5" fill="rgb(189,98,82)"/><polygon points="46.7,246.2 95.8,246.2 95.8,263.5 46.7,263.5" fill="rgb(197,101,83)"/><polygon points="97.2,246.2 146.3,246.2 146.3,263.5 97.2,263.5" fill="rgb(198,103,83)"/><polygon points="147.7,246.2 196.8,246.2 196.8,263.5 147.7,263.5" fill="rgb(191,98,78)"/><polygon points="198.2,246.2 247.3,246.2 247.3,263.5 198.2,263.5" fill="rgb(183,96,76)"/><polygon points="248.7,246.2 297.8,246.2 297.8,263.5 248.7,263.5" fill="rgb(191,97,82)"/><polygon points="299.2,246.2 348.3,246.2 348.3,263.5 299.2,263.5" fill="rgb(196,104,84)"/><polygon points="349.7,246.2 398.8,246.2 398.8,263.5 349.7,263.5" fill="rgb(201,103,85)"/><polygon points="400.2,246.2 449.3,246.2 449.3,263.5 400.2,263.5" fill="rgb(184,100,79)"/><polygon points="450.7,246.2 499.8,246.2 499.8,263.5 450.7,263.5" fill="rgb(188,100,80)"/><polygon points="501.2,246.2 550.3,246.2 550.3,263.5 501.2,263.5" fill="rgb(188,98,80)"/><polygon points="551.7,246.2 600.8,246.2 600.8,263.5 551.7,263.5" fill="rgb(188,97,77)"/><polygon points="602.2,246.2 651.3,246.2 651.3,263.5 602.2,263.5" fill="rgb(200,107,85)"/><polygon points="652.7,246.2 701.8,246.2 701.8,263.5 652.7,263.5" fill="rgb(186,94,79)"/><polygon points="703.2,246.2 752.3,246.2 752.3,263.5 703.2,263.5" fill="rgb(190,95,78)"/><polygon points="753.7,246.2 802.8,246.2 802.8,263.5 753.7,263.5" fill="rgb(191,96,81)"/><polygon points="804.2,246.2 853.3,246.2 853.3,263.5 804.2,263.5" fill="rgb(190,99,80)"/><polygon points="854.7,246.2 903.8,246.2 903.8,263.5 854.7,263.5" fill="rgb(192,101,82)"/><polygon points="905.2,246.2 954.3,246.2 954.3,263.5 905.2,263.5" fill="rgb(199,104,83)"/><polygon points="955.7,246.2 1004.8,246.2 1004.8,263.5 955.7,263.5" fill="rgb(200,105,81)"/><polygon points="-79.3,264.9 -30.2,264.9 -30.2,281.6 -79.3,281.6" fill="rgb(188,94,75)"/><polygon points="-28.8,264.9 20.3,264.9 20.3,281.6 -28.8,281.6" fill="rgb(194,100,82)"/><polygon points="21.7,264.9 70.8,264.9 70.8,281.6 21.7,281.6" fill="rgb(196,103,84)"/><polygon points="72.2,264.9 121.3,264.9 121.3,281.6 72.2,281.6" fill="rgb(187,95,76)"/><polygon points="122.7,264.9 171.8,264.9 171.8,281.6 122.7,281.6" fill="rgb(199,102,82)"/><polygon points="173.2,264.9 222.3,264.9 222.3,281.6 173.2,281.6" fill="rgb(192,100,82)"/><polygon points="223.7,264.9 272.8,264.9 272.8,281.6 223.7,281.6" fill="rgb(191,103,83)"/><polygon points="274.2,264.9 323.3,264.9 323.3,281.6 274.2,281.6" fill="rgb(187,95,79)"/><polygon points="324.7,264.9 373.8,264.9 373.8,281.6 324.7,281.6" fill="rgb(195,101,84)"/><polygon points="375.2,264.9 424.3,264.9 424.3,281.6 375.2,281.6" fill="rgb(188,94,79)"/><polygon points="425.7,264.9 474.8,264.9 474.8,281.6 425.7,281.6" fill="rgb(194,100,80)"/><polygon points="476.2,264.9 525.3,264.9 525.3,281.6 476.2,281.6" fill="rgb(188,97,80)"/><polygon points="526.7,264.9 575.8,264.9 575.8,281.6 526.7,281.6" fill="rgb(191,99,80)"/><polygon points="577.2,264.9 626.3,264.9 626.3,281.6 577.2,281.6" fill="rgb(191,102,81)"/><polygon points="627.7,264.9 676.8,264.9 676.8,281.6 627.7,281.6" fill="rgb(185,95,79)"/><polygon points="678.2,264.9 727.3,264.9 727.3,281.6 678.2,281.6" fill="rgb(193,102,80)"/><polygon points="728.7,264.9 777.8,264.9 777.8,281.6 728.7,281.6" fill="rgb(197,106,81)"/><polygon points="779.2,264.9 828.3,264.9 828.3,281.6 779.2,281.6" fill="rgb(200,102,83)"/><polygon points="829.7,264.9 878.8,264.9 878.8,281.6 829.7,281.6" fill="rgb(190,97,79)"/><polygon points="880.2,264.9 929.3,264.9 929.3,281.6 880.2,281.6" fill="rgb(191,97,78)"/><polygon points="930.7,264.9 979.8,264.9 979.8,281.6 930.7,281.6" fill="rgb(190,98,80)"/><polygon points="-54.3,283.0 -5.2,283.0 -5.2,299.9 -54.3,299.9" fill="rgb(185,96,80)"/><polygon points="-3.8,283.0 45.3,283.0 45.3,299.9 -3.8,299.9" fill="rgb(186,94,79)"/><polygon points="46.7,283.0 95.8,283.0 95.8,299.9 46.7,299.9" fill="rgb(186,98,81)"/><polygon points="97.2,283.0 146.3,283.0 146.3,299.9 97.2,299.9" fill="rgb(189,100,76)"/><polygon points="147.7,283.0 196.8,283.0 196.8,299.9 147.7,299.9" fill="rgb(194,98,80)"/><polygon points="198.2,283.0 247.3,283.0 247.3,299.9 198.2,299.9" fill="rgb(184,98,76)"/><polygon points="248.7,283.0 297.8,283.0 297.8,299.9 248.7,299.9" fill="rgb(197,102,81)"/><polygon points="299.2,283.0 348.3,283.0 348.3,299.9 299.2,299.9" fill="rgb(197,101,82)"/><polygon points="349.7,283.0 398.8,283.0 398.8,299.9 349.7,299.9" fill="rgb(182,96,79)"/><polygon points="400.2,283.0 449.3,283.0 449.3,299.9 400.2,299.9" fill="rgb(184,96,80)"/><polygon points="450.7,283.0 499.8,283.0 499.8,299.9 450.7,299.9" fill="rgb(195,103,85)"/><polygon points="501.2,283.0 550.3,283.0 550.3,299.9 501.2,299.9" fill="rgb(191,100,77)"/><polygon points="551.7,283.0 600.8,283.0 600.8,299.9 551.7,299.9" fill="rgb(187,96,79)"/><polygon points="602.2,283.0 651.3,283.0 651.3,299.9 602.2,299.9" fill="rgb(187,95,79)"/><polygon points="652.7,283.0 701.8,283.0 701.8,299.9 652.7,299.9" fill="rgb(187,95,78)"/><polygon points="703.2,283.0 752.3,283.0 752.3,299.9 703.2,299.9" fill="rgb(185,98,78)"/><polygon points="753.7,283.0 802.8,283.0 802.8,299.9 753.7,299.9" fill="rgb(194,106,83)"/><polygon points="804.2,283.0 853.3,283.0 853.3,299.9 804.2,299.9" fill="rgb(192,97,79)"/><polygon points="854.7,283.0 903.8,283.0 903.8,299.9 854.7,299.9" fill="rgb(192,97,80)"/><polygon points="905.2,283.0 954.3,283.0 954.3,299.9 905.2,299.9" fill="rgb(187,95,79)"/><polygon points="955.7,283.0 1004.8,283.0 1004.8,299.9 955.7,299.9" fill="rgb(188,99,78)"/><polygon points="-79.3,301.3 -30.2,301.3 -30.2,317.6 -79.3,317.6" fill="rgb(196,103,84)"/><polygon points="-28.8,301.3 20.3,301.3 20.3,317.6 -28.8,317.6" fill="rgb(188,96,75)"/><polygon points="21.7,301.3 70.8,301.3 70.8,317.6 21.7,317.6" fill="rgb(192,100,81)"/><polygon points="72.2,301.3 121.3,301.3 121.3,317.6 72.2,317.6" fill="rgb(189,99,79)"/><polygon points="122.7,301.3 171.8,301.3 171.8,317.6 122.7,317.6" fill="rgb(187,96,81)"/><polygon points="173.2,301.3 222.3,301.3 222.3,317.6 173.2,317.6" fill="rgb(197,102,84)"/><polygon points="223.7,301.3 272.8,301.3 272.8,317.6 223.7,317.6" fill="rgb(187,97,76)"/><polygon points="274.2,301.3 323.3,301.3 323.3,317.6 274.2,317.6" fill="rgb(192,100,82)"/><polygon points="324.7,301.3 373.8,301.3 373.8,317.6 324.7,317.6" fill="rgb(184,96,77)"/><polygon points="375.2,301.3 424.3,301.3 424.3,317.6 375.2,317.6" fill="rgb(187,100,77)"/><polygon points="425.7,301.3 474.8,301.3 474.8,317.6 425.7,317.6" fill="rgb(191,96,80)"/><polygon points="476.2,301.3 525.3,301.3 525.3,317.6 476.2,317.6" fill="rgb(194,99,80)"/><polygon points="526.7,301.3 575.8,301.3 575.8,317.6 526.7,317.6" fill="rgb(185,92,77)"/><polygon points="577.2,301.3 626.3,301.3 626.3,317.6 577.2,317.6" fill="rgb(186,95,77)"/><polygon points="627.7,301.3 676.8,301.3 676.8,317.6 627.7,317.6" fill="rgb(196,98,81)"/><polygon points="678.2,301.3 727.3,301.3 727.3,317.6 678.2,317.6" fill="rgb(188,95,81)"/><polygon points="728.7,301.3 777.8,301.3 777.8,317.6 728.7,317.6" fill="rgb(183,92,78)"/><polygon points="779.2,301.3 828.3,301.3 828.3,317.6 779.2,317.6" fill="rgb(194,101,79)"/><polygon points="829.7,301.3 878.8,301.3 878.8,317.6 829.7,317.6" fill="rgb(186,99,76)"/><polygon points="880.2,301.3 929.3,301.3 929.3,317.6 880.2,317.6" fill="rgb(198,101,81)"/><polygon points="930.7,301.3 979.8,301.3 979.8,317.6 930.7,317.6" fill="rgb(195,99,79)"/><polygon points="-54.3,319.0 -5.2,319.0 -5.2,335.8 -54.3,335.8" fill="rgb(199,102,82)"/><polygon points="-3.8,319.0 45.3,319.0 45.3,335.8 -3.8,335.8" fill="rgb(196,102,80)"/><polygon points="46.7,319.0 95.8,319.0 95.8,335.8 46.7,335.8" fill="rgb(192,99,79)"/><polygon points="97.2,319.0 146.3,319.0 146.3,335.8 97.2,335.8" fill="rgb(196,98,84)"/><polygon points="147.7,319.0 196.8,319.0 196.8,335.8 147.7,335.8" fill="rgb(183,94,79)"/><polygon points="198.2,319.0 247.3,319.0 247.3,335.8 198.2,335.8" fill="rgb(185,93,75)"/><polygon points="248.7,319.0 297.8,319.0 297.8,335.8 248.7,335.8" fill="rgb(183,96,76)"/><polygon points="299.2,319.0 348.3,319.0 348.3,335.8 299.2,335.8" fill="rgb(184,96,74)"/><polygon points="349.7,319.0 398.8,319.0 398.8,335.8 349.7,335.8" fill="rgb(196,98,79)"/><polygon points="400.2,319.0 449.3,319.0 449.3,335.8 400.2,335.8" fill="rgb(190,96,81)"/><polygon points="450.7,319.0 499.8,319.0 499.8,335.8 450.7,335.8" fill="rgb(198,103,82)"/><polygon points="501.2,319.0 550.3,319.0 550.3,335.8 501.2,335.8" fill="rgb(193,98,83)"/><polygon points="551.7,319.0 600.8,319.0 600.8,335.8 551.7,335.8" fill="rgb(186,94,77)"/><polygon points="602.2,319.0 651.3,319.0 651.3,335.8 602.2,335.8" fill="rgb(191,97,78)"/><polygon points="652.7,319.0 701.8,319.0 701.8,335.8 652.7,335.8" fill="rgb(180,94,77)"/><polygon points="703.2,319.0 752.3,319.0 752.3,335.8 703.2,335.8" fill="rgb(188,97,81)"/><polygon points="753.7,319.0 802.8,319.0 802.8,335.8 753.7,335.8" fill="rgb(198,100,81)"/><polygon points="804.2,319.0 853.3,319.0 853.3,335.8 804.2,335.8" fill="rgb(195,100,80)"/><polygon points="854.7,319.0 903.8,319.0 903.8,335.8 854.7,335.8" fill="rgb(182,92,77)"/><polygon points="905.2,319.0 954.3,319.0 954.3,335.8 905.2,335.8" fill="rgb(185,99,79)"/><polygon points="955.7,319.0 1004.8,319.0 1004.8,335.8 955.7,335.8" fill="rgb(192,99,78)"/><polygon points="-79.3,337.2 -30.2,337.2 -30.2,353.5 -79.3,353.5" fill="rgb(184,90,73)"/><polygon points="-28.8,337.2 20.3,337.2 20.3,353.5 -28.8,353.5" fill="rgb(198,99,84)"/><polygon points="21.7,337.2 70.8,337.2 70.8,353.5 21.7,353.5" fill="rgb(180,95,78)"/><polygon points="72.2,337.2 121.3,337.2 121.3,353.5 72.2,353.5" fill="rgb(196,102,81)"/><polygon points="122.7,337.2 171.8,337.2 171.8,353.5 122.7,353.5" fill="rgb(185,89,77)"/><polygon points="173.2,337.2 222.3,337.2 222.3,353.5 173.2,353.5" fill="rgb(195,101,79)"/><polygon points="223.7,337.2 272.8,337.2 272.8,353.5 223.7,353.5" fill="rgb(183,93,77)"/><polygon points="274.2,337.2 323.3,337.2 323.3,353.5 274.2,353.5" fill="rgb(197,97,80)"/><polygon points="324.7,337.2 373.8,337.2 373.8,353.5 324.7,353.5" fill="rgb(186,91,78)"/><polygon points="375.2,337.2 424.3,337.2 424.3,353.5 375.2,353.5" fill="rgb(193,97,81)"/><polygon points="425.7,337.2 474.8,337.2 474.8,353.5 425.7,353.5" fill="rgb(197,99,83)"/><polygon points="476.2,337.2 525.3,337.2 525.3,353.5 476.2,353.5" fill="rgb(183,94,77)"/><polygon points="526.7,337.2 575.8,337.2 575.8,353.5 526.7,353.5" fill="rgb(186,92,79)"/><polygon points="577.2,337.2 626.3,337.2 626.3,353.5 577.2,353.5" fill="rgb(188,95,79)"/><polygon points="627.7,337.2 676.8,337.2 676.8,353.5 627.7,353.5" fill="rgb(180,90,76)"/><polygon points="678.2,337.2 727.3,337.2 727.3,353.5 678.2,353.5" fill="rgb(186,92,76)"/><polygon points="728.7,337.2 777.8,337.2 777.8,353.5 728.7,353.5" fill="rgb(196,98,82)"/><polygon points="779.2,337.2 828.3,337.2 828.3,353.5 779.2,353.5" fill="rgb(186,93,74)"/><polygon points="829.7,337.2 878.8,337.2 878.8,353.5 829.7,353.5" fill="rgb(195,97,81)"/><polygon points="880.2,337.2 929.3,337.2 929.3,353.5 880.2,353.5" fill="rgb(191,97,77)"/><polygon points="930.7,337.2 979.8,337.2 979.8,353.5 930.7,353.5" fill="rgb(187,96,78)"/><polygon points="-54.3,354.9 -5.2,354.9 -5.2,371.2 -54.3,371.2" fill="rgb(195,96,80)"/><polygon points="-3.8,354.9 45.3,354.9 45.3,371.2 -3.8,371.2" fill="rgb(186,95,76)"/><polygon points="46.7,354.9 95.8,354.9 95.8,371.2 46.7,371.2" fill="rgb(185,96,75)"/><polygon points="97.2,354.9 146.3,354.9 146.3,371.2 97.2,371.2" fill="rgb(186,93,80)"/><polygon points="147.7,354.9 196.8,354.9 196.8,371.2 147.7,371.2" fill="rgb(189,96,82)"/><polygon points="198.2,354.9 247.3,354.9 247.3,371.2 198.2,371.2" fill="rgb(184,95,78)"/><polygon points="248.7,354.9 297.8,354.9 297.8,371.2 248.7,371.2" fill="rgb(197,98,79)"/><polygon points="299.2,354.9 348.3,354.9 348.3,371.2 299.2,371.2" fill="rgb(189,95,79)"/><polygon points="349.7,354.9 398.8,354.9 398.8,371.2 349.7,371.2" fill="rgb(186,95,77)"/><polygon points="400.2,354.9 449.3,354.9 449.3,371.2 400.2,371.2" fill="rgb(188,93,75)"/><polygon points="450.7,354.9 499.8,354.9 499.8,371.2 450.7,371.2" fill="rgb(183,90,77)"/><polygon points="501.2,354.9 550.3,354.9 550.3,371.2 501.2,371.2" fill="rgb(188,93,77)"/><polygon points="551.7,354.9 600.8,354.9 600.8,371.2 551.7,371.2" fill="rgb(182,89,74)"/><polygon points="602.2,354.9 651.3,354.9 651.3,371.2 602.2,371.2" fill="rgb(183,90,77)"/><polygon points="652.7,354.9 701.8,354.9 701.8,371.2 652.7,371.2" fill="rgb(184,93,76)"/><polygon points="703.2,354.9 752.3,354.9 752.3,371.2 703.2,371.2" fill="rgb(188,94,79)"/><polygon points="753.7,354.9 802.8,354.9 802.8,371.2 753.7,371.2" fill="rgb(193,96,78)"/><polygon points="804.2,354.9 853.3,354.9 853.3,371.2 804.2,371.2" fill="rgb(180,95,74)"/><polygon points="854.7,354.9 903.8,354.9 903.8,371.2 854.7,371.2" fill="rgb(190,97,78)"/><polygon points="905.2,354.9 954.3,354.9 954.3,371.2 905.2,371.2" fill="rgb(184,89,75)"/><polygon points="955.7,354.9 1004.8,354.9 1004.8,371.2 955.7,371.2" fill="rgb(190,93,75)"/><polygon points="-79.3,372.6 -30.2,372.6 -30.2,388.5 -79.3,388.5" fill="rgb(182,92,76)"/><polygon points="-28.8,372.6 20.3,372.6 20.3,388.5 -28.8,388.5" fill="rgb(193,99,83)"/><polygon points="21.7,372.6 70.8,372.6 70.8,388.5 21.7,388.5" fill="rgb(188,94,78)"/><polygon points="72.2,372.6 121.3,372.6 121.3,388.5 72.2,388.5" fill="rgb(181,88,73)"/><polygon points="122.7,372.6 171.8,372.6 171.8,388.5 122.7,388.5" fill="rgb(181,86,75)"/><polygon points="173.2,372.6 222.3,372.6 222.3,388.5 173.2,388.5" fill="rgb(180,88,73)"/><polygon points="223.7,372.6 272.8,372.6 272.8,388.5 223.7,388.5" fill="rgb(197,95,79)"/><polygon points="274.2,372.6 323.3,372.6 323.3,388.5 274.2,388.5" fill="rgb(190,97,77)"/><polygon points="324.7,372.6 373.8,372.6 373.8,388.5 324.7,388.5" fill="rgb(182,88,77)"/><polygon points="375.2,372.6 424.3,372.6 424.3,388.5 375.2,388.5" fill="rgb(191,96,79)"/><polygon points="425.7,372.6 474.8,372.6 474.8,388.5 425.7,388.5" fill="rgb(194,95,82)"/><polygon points="476.2,372.6 525.3,372.6 525.3,388.5 476.2,388.5" fill="rgb(181,91,74)"/><polygon points="526.7,372.6 575.8,372.6 575.8,388.5 526.7,388.5" fill="rgb(196,101,82)"/><polygon points="577.2,372.6 626.3,372.6 626.3,388.5 577.2,388.5" fill="rgb(192,93,80)"/><polygon points="627.7,372.6 676.8,372.6 676.8,388.5 627.7,388.5" fill="rgb(193,99,81)"/><polygon points="678.2,372.6 727.3,372.6 727.3,388.5 678.2,388.5" fill="rgb(183,92,75)"/><polygon points="728.7,372.6 777.8,372.6 777.8,388.5 728.7,388.5" fill="rgb(180,87,75)"/><polygon points="779.2,372.6 828.3,372.6 828.3,388.5 779.2,388.5" fill="rgb(185,88,73)"/><polygon points="829.7,372.6 878.8,372.6 878.8,388.5 829.7,388.5" fill="rgb(187,94,76)"/><polygon points="880.2,372.6 929.3,372.6 929.3,388.5 880.2,388.5" fill="rgb(188,95,81)"/><polygon points="930.7,372.6 979.8,372.6 979.8,388.5 930.7,388.5" fill="rgb(190,97,81)"/><polygon points="-54.3,389.9 -5.2,389.9 -5.2,406.6 -54.3,406.6" fill="rgb(182,92,74)"/><polygon points="-3.8,389.9 45.3,389.9 45.3,406.6 -3.8,406.6" fill="rgb(181,86,72)"/><polygon points="46.7,389.9 95.8,389.9 95.8,406.6 46.7,406.6" fill="rgb(181,93,74)"/><polygon points="97.2,389.9 146.3,389.9 146.3,406.6 97.2,406.6" fill="rgb(183,88,73)"/><polygon points="147.7,389.9 196.8,389.9 196.8,406.6 147.7,406.6" fill="rgb(193,95,82)"/><polygon points="198.2,389.9 247.3,389.9 247.3,406.6 198.2,406.6" fill="rgb(182,93,76)"/><polygon points="248.7,389.9 297.8,389.9 297.8,406.6 248.7,406.6" fill="rgb(186,95,78)"/><polygon points="299.2,389.9 348.3,389.9 348.3,406.6 299.2,406.6" fill="rgb(187,98,76)"/><polygon points="349.7,389.9 398.8,389.9 398.8,406.6 349.7,406.6" fill="rgb(187,90,78)"/><polygon points="400.2,389.9 449.3,389.9 449.3,406.6 400.2,406.6" fill="rgb(192,99,79)"/><polygon points="450.7,389.9 499.8,389.9 499.8,406.6 450.7,406.6" fill="rgb(186,93,74)"/><polygon points="501.2,389.9 550.3,389.9 550.3,406.6 501.2,406.6" fill="rgb(186,91,75)"/><polygon points="551.7,389.9 600.8,389.9 600.8,406.6 551.7,406.6" fill="rgb(176,85,75)"/><polygon points="602.2,389.9 651.3,389.9 651.3,406.6 602.2,406.6" fill="rgb(191,95,79)"/><polygon points="652.7,389.9 701.8,389.9 701.8,406.6 652.7,406.6" fill="rgb(187,92,76)"/><polygon points="703.2,389.9 752.3,389.9 752.3,406.6 703.2,406.6" fill="rgb(183,91,72)"/><polygon points="753.7,389.9 802.8,389.9 802.8,406.6 753.7,406.6" fill="rgb(187,97,76)"/><polygon points="804.2,389.9 853.3,389.9 853.3,406.6 804.2,406.6" fill="rgb(183,90,73)"/><polygon points="854.7,389.9 903.8,389.9 903.8,406.6 854.7,406.6" fill="rgb(185,93,76)"/><polygon points="905.2,389.9 954.3,389.9 954.3,406.6 905.2,406.6" fill="rgb(195,93,81)"/><polygon points="955.7,389.9 1004.8,389.9 1004.8,406.6 955.7,406.6" fill="rgb(178,87,72)"/><polygon points="-79.3,408.0 -30.2,408.0 -30.2,424.9 -79.3,424.9" fill="rgb(176,84,71)"/><polygon points="-28.8,408.0 20.3,408.0 20.3,424.9 -28.8,424.9" fill="rgb(194,97,79)"/><polygon points="21.7,408.0 70.8,408.0 70.8,424.9 21.7,424.9" fill="rgb(182,89,74)"/><polygon points="72.2,408.0 121.3,408.0 121.3,424.9 72.2,424.9" fill="rgb(193,96,77)"/><polygon points="122.7,408.0 171.8,408.0 171.8,424.9 122.7,424.9" fill="rgb(181,88,75)"/><polygon points="173.2,408.0 222.3,408.0 222.3,424.9 173.2,424.9" fill="rgb(179,88,74)"/><polygon points="223.7,408.0 272.8,408.0 272.8,424.9 223.7,424.9" fill="rgb(191,92,79)"/><polygon points="274.2,408.0 323.3,408.0 323.3,424.9 274.2,424.9" fill="rgb(191,98,81)"/><polygon points="324.7,408.0 373.8,408.0 373.8,424.9 324.7,424.9" fill="rgb(186,95,76)"/><polygon points="375.2,408.0 424.3,408.0 424.3,424.9 375.2,424.9" fill="rgb(189,89,78)"/><polygon points="425.7,408.0 474.8,408.0 474.8,424.9 425.7,424.9" fill="rgb(178,88,70)"/><polygon points="476.2,408.0 525.3,408.0 525.3,424.9 476.2,424.9" fill="rgb(183,92,73)"/><polygon points="526.7,408.0 575.8,408.0 575.8,424.9 526.7,424.9" fill="rgb(187,90,74)"/><polygon points="577.2,408.0 626.3,408.0 626.3,424.9 577.2,424.9" fill="rgb(190,91,76)"/><polygon points="627.7,408.0 676.8,408.0 676.8,424.9 627.7,424.9" fill="rgb(181,91,74)"/><polygon points="678.2,408.0 727.3,408.0 727.3,424.9 678.2,424.9" fill="rgb(185,92,72)"/><polygon points="728.7,408.0 777.8,408.0 777.8,424.9 728.7,424.9" fill="rgb(177,87,70)"/><polygon points="779.2,408.0 828.3,408.0 828.3,424.9 779.2,424.9" fill="rgb(187,94,75)"/><polygon points="829.7,408.0 878.8,408.0 878.8,424.9 829.7,424.9" fill="rgb(186,90,78)"/><polygon points="880.2,408.0 929.3,408.0 929.3,424.9 880.2,424.9" fill="rgb(183,87,74)"/><polygon points="930.7,408.0 979.8,408.0 979.8,424.9 930.7,424.9" fill="rgb(189,97,78)"/><polygon points="-54.3,426.3 -5.2,426.3 -5.2,442.6 -54.3,442.6" fill="rgb(182,87,73)"/><polygon points="-3.8,426.3 45.3,426.3 45.3,442.6 -3.8,442.6" fill="rgb(187,92,77)"/><polygon points="46.7,426.3 95.8,426.3 95.8,442.6 46.7,442.6" fill="rgb(186,95,77)"/><polygon points="97.2,426.3 146.3,426.3 146.3,442.6 97.2,442.6" fill="rgb(179,89,75)"/><polygon points="147.7,426.3 196.8,426.3 196.8,442.6 147.7,442.6" fill="rgb(193,91,79)"/><polygon points="198.2,426.3 247.3,426.3 247.3,442.6 198.2,442.6" fill="rgb(193,91,78)"/><polygon points="248.7,426.3 297.8,426.3 297.8,442.6 248.7,442.6" fill="rgb(179,86,74)"/><polygon points="299.2,426.3 348.3,426.3 348.3,442.6 299.2,442.6" fill="rgb(192,95,77)"/><polygon points="349.7,426.3 398.8,426.3 398.8,442.6 349.7,442.6" fill="rgb(185,87,75)"/><polygon points="400.2,426.3 449.3,426.3 449.3,442.6 400.2,442.6" fill="rgb(180,88,74)"/><polygon points="450.7,426.3 499.8,426.3 499.8,442.6 450.7,442.6" fill="rgb(184,91,78)"/><polygon points="501.2,426.3 550.3,426.3 550.3,442.6 501.2,442.6" fill="rgb(183,87,75)"/><polygon points="551.7,426.3 600.8,426.3 600.8,442.6 551.7,442.6" fill="rgb(188,94,76)"/><polygon points="602.2,426.3 651.3,426.3 651.3,442.6 602.2,442.6" fill="rgb(179,87,72)"/><polygon points="652.7,426.3 701.8,426.3 701.8,442.6 652.7,442.6" fill="rgb(184,89,76)"/><polygon points="703.2,426.3 752.3,426.3 752.3,442.6 703.2,442.6" fill="rgb(186,92,74)"/><polygon points="753.7,426.3 802.8,426.3 802.8,442.6 753.7,442.6" fill="rgb(183,89,75)"/><polygon points="804.2,426.3 853.3,426.3 853.3,442.6 804.2,442.6" fill="rgb(191,96,79)"/><polygon points="854.7,426.3 903.8,426.3 903.8,442.6 854.7,442.6" fill="rgb(181,85,71)"/><polygon points="905.2,426.3 954.3,426.3 954.3,442.6 905.2,442.6" fill="rgb(187,93,79)"/><polygon points="955.7,426.3 1004.8,426.3 1004.8,442.6 955.7,442.6" fill="rgb(180,87,74)"/><polygon points="-79.3,444.0 -30.2,444.0 -30.2,460.4 -79.3,460.4" fill="rgb(174,87,69)"/><polygon points="-28.8,444.0 20.3,444.0 20.3,460.4 -28.8,460.4" fill="rgb(176,81,69)"/><polygon points="21.7,444.0 70.8,444.0 70.8,460.4 21.7,460.4" fill="rgb(176,84,72)"/><polygon points="72.2,444.0 121.3,444.0 121.3,460.4 72.2,460.4" fill="rgb(182,89,75)"/><polygon points="122.7,444.0 171.8,444.0 171.8,460.4 122.7,460.4" fill="rgb(172,87,69)"/><polygon points="173.2,444.0 222.3,444.0 222.3,460.4 173.2,460.4" fill="rgb(174,85,72)"/><polygon points="223.7,444.0 272.8,444.0 272.8,460.4 223.7,460.4" fill="rgb(169,83,70)"/><polygon points="274.2,444.0 323.3,444.0 323.3,460.4 274.2,460.4" fill="rgb(181,90,75)"/><polygon points="324.7,444.0 373.8,444.0 373.8,460.4 324.7,460.4" fill="rgb(176,85,73)"/><polygon points="375.2,444.0 424.3,444.0 424.3,460.4 375.2,460.4" fill="rgb(183,88,72)"/><polygon points="425.7,444.0 474.8,444.0 474.8,460.4 425.7,460.4" fill="rgb(181,92,76)"/><polygon points="476.2,444.0 525.3,444.0 525.3,460.4 476.2,460.4" fill="rgb(184,90,76)"/><polygon points="526.7,444.0 575.8,444.0 575.8,460.4 526.7,460.4" fill="rgb(183,93,78)"/><polygon points="577.2,444.0 626.3,444.0 626.3,460.4 577.2,460.4" fill="rgb(183,93,75)"/><polygon points="627.7,444.0 676.8,444.0 676.8,460.4 627.7,460.4" fill="rgb(179,89,75)"/><polygon points="678.2,444.0 727.3,444.0 727.3,460.4 678.2,460.4" fill="rgb(176,88,70)"/><polygon points="728.7,444.0 777.8,444.0 777.8,460.4 728.7,460.4" fill="rgb(186,89,77)"/><polygon points="779.2,444.0 828.3,444.0 828.3,460.4 779.2,460.4" fill="rgb(185,91,74)"/><polygon points="829.7,444.0 878.8,444.0 878.8,460.4 829.7,460.4" fill="rgb(179,85,72)"/><polygon points="880.2,444.0 929.3,444.0 929.3,460.4 880.2,460.4" fill="rgb(176,88,74)"/><polygon points="930.7,444.0 979.8,444.0 979.8,460.4 930.7,460.4" fill="rgb(182,90,72)"/><polygon points="-54.3,461.8 -5.2,461.8 -5.2,478.2 -54.3,478.2" fill="rgb(181,87,72)"/><polygon points="-3.8,461.8 45.3,461.8 45.3,478.2 -3.8,478.2" fill="rgb(174,83,68)"/><polygon points="46.7,461.8 95.8,461.8 95.8,478.2 46.7,478.2" fill="rgb(164,80,66)"/><polygon points="97.2,461.8 146.3,461.8 146.3,478.2 97.2,478.2" fill="rgb(169,84,67)"/><polygon points="147.7,461.8 196.8,461.8 196.8,478.2 147.7,478.2" fill="rgb(172,81,73)"/><polygon points="198.2,461.8 247.3,461.8 247.3,478.2 198.2,478.2" fill="rgb(173,82,72)"/><polygon points="248.7,461.8 297.8,461.8 297.8,478.2 248.7,478.2" fill="rgb(170,86,71)"/><polygon points="299.2,461.8 348.3,461.8 348.3,478.2 299.2,478.2" fill="rgb(172,84,72)"/><polygon points="349.7,461.8 398.8,461.8 398.8,478.2 349.7,478.2" fill="rgb(170,79,70)"/><polygon points="400.2,461.8 449.3,461.8 449.3,478.2 400.2,478.2" fill="rgb(176,81,73)"/><polygon points="450.7,461.8 499.8,461.8 499.8,478.2 450.7,478.2" fill="rgb(172,79,70)"/><polygon points="501.2,461.8 550.3,461.8 550.3,478.2 501.2,478.2" fill="rgb(169,82,67)"/><polygon points="551.7,461.8 600.8,461.8 600.8,478.2 551.7,478.2" fill="rgb(162,79,68)"/><polygon points="602.2,461.8 651.3,461.8 651.3,478.2 602.2,478.2" fill="rgb(177,87,72)"/><polygon points="652.7,461.8 701.8,461.8 701.8,478.2 652.7,478.2" fill="rgb(173,82,71)"/><polygon points="703.2,461.8 752.3,461.8 752.3,478.2 703.2,478.2" fill="rgb(171,82,71)"/><polygon points="753.7,461.8 802.8,461.8 802.8,478.2 753.7,478.2" fill="rgb(171,81,70)"/><polygon points="804.2,461.8 853.3,461.8 853.3,478.2 804.2,478.2" fill="rgb(166,79,67)"/><polygon points="854.7,461.8 903.8,461.8 903.8,478.2 854.7,478.2" fill="rgb(180,89,72)"/><polygon points="905.2,461.8 954.3,461.8 954.3,478.2 905.2,478.2" fill="rgb(174,85,70)"/><polygon points="955.7,461.8 1004.8,461.8 1004.8,478.2 955.7,478.2" fill="rgb(176,86,75)"/><polygon points="-79.3,479.6 -30.2,479.6 -30.2,493.7 -79.3,493.7" fill="rgb(163,83,71)"/><polygon points="-28.8,479.6 20.3,479.6 20.3,493.7 -28.8,493.7" fill="rgb(165,85,71)"/><polygon points="21.7,479.6 70.8,479.6 70.8,493.7 21.7,493.7" fill="rgb(165,82,67)"/><polygon points="72.2,479.6 121.3,479.6 121.3,493.7 72.2,493.7" fill="rgb(163,78,67)"/><polygon points="122.7,479.6 171.8,479.6 171.8,493.7 122.7,493.7" fill="rgb(165,78,69)"/><polygon points="173.2,479.6 222.3,479.6 222.3,493.7 173.2,493.7" fill="rgb(160,78,65)"/><polygon points="223.7,479.6 272.8,479.6 272.8,493.7 223.7,493.7" fill="rgb(160,81,68)"/><polygon points="274.2,479.6 323.3,479.6 323.3,493.7 274.2,493.7" fill="rgb(162,79,69)"/><polygon points="324.7,479.6 373.8,479.6 373.8,493.7 324.7,493.7" fill="rgb(168,78,70)"/><polygon points="375.2,479.6 424.3,479.6 424.3,493.7 375.2,493.7" fill="rgb(158,80,67)"/><polygon points="425.7,479.6 474.8,479.6 474.8,493.7 425.7,493.7" fill="rgb(154,79,67)"/><polygon points="476.2,479.6 525.3,479.6 525.3,493.7 476.2,493.7" fill="rgb(170,87,71)"/><polygon points="526.7,479.6 575.8,479.6 575.8,493.7 526.7,493.7" fill="rgb(168,80,71)"/><polygon points="577.2,479.6 626.3,479.6 626.3,493.7 577.2,493.7" fill="rgb(159,73,64)"/><polygon points="627.7,479.6 676.8,479.6 676.8,493.7 627.7,493.7" fill="rgb(160,76,66)"/><polygon points="678.2,479.6 727.3,479.6 727.3,493.7 678.2,493.7" fill="rgb(163,82,69)"/><polygon points="728.7,479.6 777.8,479.6 777.8,493.7 728.7,493.7" fill="rgb(168,82,73)"/><polygon points="779.2,479.6 828.3,479.6 828.3,493.7 779.2,493.7" fill="rgb(165,77,67)"/><polygon points="829.7,479.6 878.8,479.6 878.8,493.7 829.7,493.7" fill="rgb(171,87,74)"/><polygon points="880.2,479.6 929.3,479.6 929.3,493.7 880.2,493.7" fill="rgb(160,79,68)"/><polygon points="930.7,479.6 979.8,479.6 979.8,493.7 930.7,493.7" fill="rgb(166,85,73)"/><polygon points="-54.3,495.1 -5.2,495.1 -5.2,510.4 -54.3,510.4" fill="rgb(162,83,70)"/><polygon points="-3.8,495.1 45.3,495.1 45.3,510.4 -3.8,510.4" fill="rgb(151,77,64)"/><polygon points="46.7,495.1 95.8,495.1 95.8,510.4 46.7,510.4" fill="rgb(153,80,69)"/><polygon points="97.2,495.1 146.3,495.1 146.3,510.4 97.2,510.4" fill="rgb(155,80,67)"/><polygon points="147.7,495.1 196.8,495.1 196.8,510.4 147.7,510.4" fill="rgb(152,73,65)"/><polygon points="198.2,495.1 247.3,495.1 247.3,510.4 198.2,510.4" fill="rgb(155,78,65)"/><polygon points="248.7,495.1 297.8,495.1 297.8,510.4 248.7,510.4" fill="rgb(155,75,68)"/><polygon points="299.2,495.1 348.3,495.1 348.3,510.4 299.2,510.4" fill="rgb(151,73,67)"/><polygon points="349.7,495.1 398.8,495.1 398.8,510.4 349.7,510.4" fill="rgb(160,80,66)"/><polygon points="400.2,495.1 449.3,495.1 449.3,510.4 400.2,510.4" fill="rgb(153,73,66)"/><polygon points="450.7,495.1 499.8,495.1 499.8,510.4 450.7,510.4" fill="rgb(160,79,69)"/><polygon points="501.2,495.1 550.3,495.1 550.3,510.4 501.2,510.4" fill="rgb(161,80,71)"/><polygon points="551.7,495.1 600.8,495.1 600.8,510.4 551.7,510.4" fill="rgb(156,73,66)"/><polygon points="602.2,495.1 651.3,495.1 651.3,510.4 602.2,510.4" fill="rgb(157,81,67)"/><polygon points="652.7,495.1 701.8,495.1 701.8,510.4 652.7,510.4" fill="rgb(149,70,64)"/><polygon points="703.2,495.1 752.3,495.1 752.3,510.4 703.2,510.4" fill="rgb(157,81,71)"/><polygon points="753.7,495.1 802.8,495.1 802.8,510.4 753.7,510.4" fill="rgb(158,75,65)"/><polygon points="804.2,495.1 853.3,495.1 853.3,510.4 804.2,510.4" fill="rgb(153,75,64)"/><polygon points="854.7,495.1 903.8,495.1 903.8,510.4 854.7,510.4" fill="rgb(150,79,66)"/><polygon points="905.2,495.1 954.3,495.1 954.3,510.4 905.2,510.4" fill="rgb(153,79,68)"/><polygon points="955.7,495.1 1004.8,495.1 1004.8,510.4 955.7,510.4" fill="rgb(159,76,68)"/><polygon points="-79.3,511.8 -30.2,511.8 -30.2,527.1 -79.3,527.1" fill="rgb(145,74,66)"/><polygon points="-28.8,511.8 20.3,511.8 20.3,527.1 -28.8,527.1" fill="rgb(145,78,67)"/><polygon points="21.7,511.8 70.8,511.8 70.8,527.1 21.7,527.1" fill="rgb(143,76,66)"/><polygon points="72.2,511.8 121.3,511.8 121.3,527.1 72.2,527.1" fill="rgb(145,75,66)"/><polygon points="122.7,511.8 171.8,511.8 171.8,527.1 122.7,527.1" fill="rgb(154,77,69)"/><polygon points="173.2,511.8 222.3,511.8 222.3,527.1 173.2,527.1" fill="rgb(150,79,66)"/><polygon points="223.7,511.8 272.8,511.8 272.8,527.1 223.7,527.1" fill="rgb(143,72,66)"/><polygon points="274.2,511.8 323.3,511.8 323.3,527.1 274.2,527.1" fill="rgb(143,74,62)"/><polygon points="324.7,511.8 373.8,511.8 373.8,527.1 324.7,527.1" fill="rgb(149,78,71)"/><polygon points="375.2,511.8 424.3,511.8 424.3,527.1 375.2,527.1" fill="rgb(154,80,72)"/><polygon points="425.7,511.8 474.8,511.8 474.8,527.1 425.7,527.1" fill="rgb(140,69,61)"/><polygon points="476.2,511.8 525.3,511.8 525.3,527.1 476.2,527.1" fill="rgb(137,68,64)"/><polygon points="526.7,511.8 575.8,511.8 575.8,527.1 526.7,527.1" fill="rgb(152,78,66)"/><polygon points="577.2,511.8 626.3,511.8 626.3,527.1 577.2,527.1" fill="rgb(153,79,71)"/><polygon points="627.7,511.8 676.8,511.8 676.8,527.1 627.7,527.1" fill="rgb(147,72,68)"/><polygon points="678.2,511.8 727.3,511.8 727.3,527.1 678.2,527.1" fill="rgb(156,76,69)"/><polygon points="728.7,511.8 777.8,511.8 777.8,527.1 728.7,527.1" fill="rgb(142,72,64)"/><polygon points="779.2,511.8 828.3,511.8 828.3,527.1 779.2,527.1" fill="rgb(153,74,66)"/><polygon points="829.7,511.8 878.8,511.8 878.8,527.1 829.7,527.1" fill="rgb(148,79,66)"/><polygon points="880.2,511.8 929.3,511.8 929.3,527.1 880.2,527.1" fill="rgb(149,71,64)"/><polygon points="930.7,511.8 979.8,511.8 979.8,527.1 930.7,527.1" fill="rgb(148,76,65)"/><polygon points="-54.3,528.5 -5.2,528.5 -5.2,544.3 -54.3,544.3" fill="rgb(143,77,69)"/><polygon points="-3.8,528.5 45.3,528.5 45.3,544.3 -3.8,544.3" fill="rgb(144,75,71)"/><polygon points="46.7,528.5 95.8,528.5 95.8,544.3 46.7,544.3" fill="rgb(131,66,64)"/><polygon points="97.2,528.5 146.3,528.5 146.3,544.3 97.2,544.3" fill="rgb(143,75,66)"/><polygon points="147.7,528.5 196.8,528.5 196.8,544.3 147.7,544.3" fill="rgb(140,74,65)"/><polygon points="198.2,528.5 247.3,528.5 247.3,544.3 198.2,544.3" fill="rgb(142,80,71)"/><polygon points="248.7,528.5 297.8,528.5 297.8,544.3 248.7,544.3" fill="rgb(143,74,69)"/><polygon points="299.2,528.5 348.3,528.5 348.3,544.3 299.2,544.3" fill="rgb(130,72,65)"/><polygon points="349.7,528.5 398.8,528.5 398.8,544.3 349.7,544.3" fill="rgb(142,76,67)"/><polygon points="400.2,528.5 449.3,528.5 449.3,544.3 400.2,544.3" fill="rgb(142,73,69)"/><polygon points="450.7,528.5 499.8,528.5 499.8,544.3 450.7,544.3" fill="rgb(130,72,65)"/><polygon points="501.2,528.5 550.3,528.5 550.3,544.3 501.2,544.3" fill="rgb(133,73,63)"/><polygon points="551.7,528.5 600.8,528.5 600.8,544.3 551.7,544.3" fill="rgb(135,70,64)"/><polygon points="602.2,528.5 651.3,528.5 651.3,544.3 602.2,544.3" fill="rgb(142,75,68)"/><polygon points="652.7,528.5 701.8,528.5 701.8,544.3 652.7,544.3" fill="rgb(134,67,64)"/><polygon points="703.2,528.5 752.3,528.5 752.3,544.3 703.2,544.3" fill="rgb(144,74,70)"/><polygon points="753.7,528.5 802.8,528.5 802.8,544.3 753.7,544.3" fill="rgb(145,74,67)"/><polygon points="804.2,528.5 853.3,528.5 853.3,544.3 804.2,544.3" fill="rgb(140,74,65)"/><polygon points="854.7,528.5 903.8,528.5 903.8,544.3 854.7,544.3" fill="rgb(146,73,69)"/><polygon points="905.2,528.5 954.3,528.5 954.3,544.3 905.2,544.3" fill="rgb(143,77,69)"/><polygon points="955.7,528.5 1004.8,528.5 1004.8,544.3 955.7,544.3" fill="rgb(141,72,65)"/>
<rect x="0" y="545" width="960" height="175" fill="#948a84"/>
<rect x="0" y="543.5" width="960" height="3" fill="#5e514c"/>
<rect x="0" y="546.5" width="960" height="4" fill="#7d746f" opacity="0.6"/>
<filter id="nz2" x="0" y="0" width="100%" height="100%"><feTurbulence type="fractalNoise" baseFrequency="0.28" numOctaves="3" seed="9"/><feColorMatrix type="matrix" values="0.33 0.33 0.33 0 0  0.33 0.33 0.33 0 0  0.33 0.33 0.33 0 0  0 0 0 0 1"/></filter>
<filter id="nz" x="0" y="0" width="100%" height="100%"><feTurbulence type="fractalNoise" baseFrequency="0.55" numOctaves="2" seed="5"/><feColorMatrix type="matrix" values="0.33 0.33 0.33 0 0  0.33 0.33 0.33 0 0  0.33 0.33 0.33 0 0  0 0 0 0 1"/></filter>
<rect x="0" y="545" width="960" height="175" filter="url(#nz2)" opacity="0.38"/>
<rect x="0" y="0" width="960" height="545" filter="url(#nz)" opacity="0.08"/>
<ellipse cx="322.5" cy="0.5" rx="6" ry="3.2" fill="#9a9894"/>
<ellipse cx="322.5" cy="0.3" rx="3.8" ry="2" fill="#e8ece6"/>
</svg>
<svg id="logo" width="960" height="170" viewBox="0 0 960 170">
<g style="filter:drop-shadow(2.5px 2.5px 0 #e0302a) drop-shadow(-3px -2.5px 0 #2f9fe0)" stroke="#000" stroke-width="9.6" stroke-linejoin="round" paint-order="stroke" vector-effect="non-scaling-stroke" aria-hidden="true">
<text transform="matrix(0.6580 0.0000 -0.0000 0.8317 325.03 86.20)" font-family="DejaVu Sans, sans-serif" font-weight="bold" font-size="100" fill="#000">&#35;</text><text transform="matrix(0.7630 0.0000 -0.0000 1.1029 381.11 102.70)" font-family="DejaVu Sans, sans-serif" font-size="100" fill="#000">N</text><text transform="matrix(0.7610 0.0000 -0.0000 0.7959 433.40 94.07)" font-family="DejaVu Sans, sans-serif" font-size="100" fill="#000">o</text><text transform="matrix(0.8053 0.0000 -0.0458 1.1451 485.14 107.40)" font-family="DejaVu Sans, sans-serif" font-size="100" fill="#000">t</text><text transform="matrix(0.6646 0.0000 -0.0000 0.8587 519.28 107.40)" font-family="DejaVu Sans Mono, monospace" font-size="100" fill="#000">I</text><text transform="matrix(0.6943 0.0364 -0.0482 0.9201 554.19 111.00)" font-family="DejaVu Sans, sans-serif" font-size="100" fill="#000">n</text><text transform="matrix(1.1259 0.0985 -0.0903 1.0316 598.37 117.39)" font-family="DejaVu Sans Mono, monospace" font-size="100" stroke-width="8.2" fill="#000">M</text><text transform="matrix(0.7697 0.0269 -0.0327 0.9366 675.05 123.71)" font-family="DejaVu Sans, sans-serif" font-size="100" fill="#000">i</text><text transform="matrix(0.7704 0.0000 -0.0000 1.0292 699.62 127.04)" font-family="DejaVu Sans, sans-serif" font-size="100" fill="#000">s</text><text transform="matrix(0.7919 0.0000 -0.0000 1.0832 741.31 132.17)" font-family="DejaVu Sans, sans-serif" font-size="100" fill="#000">s</text><text transform="matrix(0.8153 0.0000 -0.0950 1.0551 782.36 141.41)" font-family="DejaVu Sans, sans-serif" font-size="100" fill="#000">O</text><text transform="matrix(0.7368 0.0386 -0.0462 0.8817 851.61 138.65)" font-family="DejaVu Sans, sans-serif" font-size="100" fill="#000">u</text><text transform="matrix(0.7120 0.0000 -0.0712 1.1864 901.89 150.80)" font-family="DejaVu Sans, sans-serif" font-size="100" fill="#000">t</text>
</g>
<g stroke="#000" stroke-width="0.8" stroke-linejoin="round" vector-effect="non-scaling-stroke">
<text transform="matrix(0.6580 0.0000 -0.0000 0.8317 325.03 86.20)" font-family="DejaVu Sans, sans-serif" font-weight="bold" font-size="100" fill="#e9561f">&#35;</text><text transform="matrix(0.7630 0.0000 -0.0000 1.1029 381.11 102.70)" font-family="DejaVu Sans, sans-serif" font-size="100" fill="#8dcea0">N</text><text transform="matrix(0.7610 0.0000 -0.0000 0.7959 433.40 94.07)" font-family="DejaVu Sans, sans-serif" font-size="100" fill="#8dcea0">o</text><text transform="matrix(0.8053 0.0000 -0.0458 1.1451 485.14 107.40)" font-family="DejaVu Sans, sans-serif" font-size="100" fill="#8dcea0">t</text><text transform="matrix(0.6646 0.0000 -0.0000 0.8587 519.28 107.40)" font-family="DejaVu Sans Mono, monospace" font-size="100" fill="#fcca92">I</text><text transform="matrix(0.6943 0.0364 -0.0482 0.9201 554.19 111.00)" font-family="DejaVu Sans, sans-serif" font-size="100" fill="#fcca92">n</text><text transform="matrix(1.1259 0.0985 -0.0903 1.0316 598.37 117.39)" font-family="DejaVu Sans Mono, monospace" font-size="100" stroke-width="2.2" fill="#7fc9cf">M</text><text transform="matrix(0.7697 0.0269 -0.0327 0.9366 675.05 123.71)" font-family="DejaVu Sans, sans-serif" font-size="100" fill="#7fc9cf">i</text><text transform="matrix(0.7704 0.0000 -0.0000 1.0292 699.62 127.04)" font-family="DejaVu Sans, sans-serif" font-size="100" fill="#7fc9cf">s</text><text transform="matrix(0.7919 0.0000 -0.0000 1.0832 741.31 132.17)" font-family="DejaVu Sans, sans-serif" font-size="100" fill="#7fc9cf">s</text><text transform="matrix(0.8153 0.0000 -0.0950 1.0551 782.36 141.41)" font-family="DejaVu Sans, sans-serif" font-size="100" fill="#fdf1a0">O</text><text transform="matrix(0.7368 0.0386 -0.0462 0.8817 851.61 138.65)" font-family="DejaVu Sans, sans-serif" font-size="100" fill="#fdf1a0">u</text><text transform="matrix(0.7120 0.0000 -0.0712 1.1864 901.89 150.80)" font-family="DejaVu Sans, sans-serif" font-size="100" fill="#fdf1a0">t</text>
</g>
</svg>
<div id="panel"></div>
<svg id="crest" width="50" height="54" viewBox="148 172 50 54" style="position:absolute;left:148px;top:172px;">
<text font-family="Liberation Sans, sans-serif" font-weight="bold" font-size="3.7" fill="#b8202a" stroke="#b8202a" stroke-width="0.35" text-anchor="middle" x="157.53 158.28 159.35 160.72 162.36 164.24 166.32 168.54 170.87 173.25 175.63 177.96 180.18 182.26 184.14 185.78 187.15 188.22 188.97" y="189.75 187.58 185.54 183.68 182.02 180.62 179.49 178.67 178.17 178.00 178.17 178.67 179.49 180.62 182.02 183.68 185.54 187.58 189.75" rotate="-76.0 -67.6 -59.1 -50.7 -42.2 -33.8 -25.3 -16.9 -8.4 0.0 8.4 16.9 25.3 33.8 42.2 50.7 59.1 67.6 76.0">PONTELAND COMMUNITY</text>
<path d="M169.5,187 L180.5,184.5 L181,203 L169,203 Z" fill="#6b6a70"/>
<path d="M172,188 l0,15 M175,187 l0,16 M178,186 l0,17" stroke="#5a595e" stroke-width="0.8"/>
<path d="M170,185 q-5,3 -3.5,8 q-3,3 -1,6 q0,3 3,4 l1.5,0 l0,-18 z" fill="#2d6b45"/>
<path d="M169,186 q4,-5 9,-4.5 l1,2 q-5,0 -10,3.5z" fill="#3f7d55"/>
<path d="M174.5,181.5 L179.5,178.5 L184.5,186.5 L180.5,188.5 Z" fill="#4a4850"/>
<rect x="164" y="202.5" width="18" height="13" fill="#bdbbc0"/>
<rect x="173" y="202.5" width="9" height="13" fill="#8a888e"/>
<path d="M166.8,205 l1.6,3.6 l-1.6,3.6 l-1.6,-3.6z" fill="#c4282a"/>
<rect x="168.5" y="208" width="8" height="1.6" fill="#d8a030"/>
<rect x="176" y="206" width="3" height="5" fill="#a32a2a" opacity="0.7"/>
<text x="173" y="220.3" font-family="Liberation Sans, sans-serif" font-weight="bold" font-size="3.6" fill="#b8202a" stroke="#b8202a" stroke-width="0.3" text-anchor="middle" textLength="29" lengthAdjust="spacingAndGlyphs">PRIMARY SCHOOL</text>
</svg>
<div class="box" style="left:222px;top:173.2px;width:600.8px;height:49.6px;background:#e15516;"></div>
<div class="box" style="left:144.3px;top:239.1px;width:232.6px;height:448.5px;background:#90c698;"></div>
<div class="box" style="left:394.4px;top:239.1px;width:220.4px;height:448.5px;background:#f9c98f;"></div>
<div class="box" style="left:631.8px;top:239.1px;width:191px;height:215.3px;background:#8acfcb;"></div>
<div class="box" style="left:631.1px;top:474px;width:191.7px;height:213.7px;background:#fff29b;"></div>
<div class="t" style="left:-129.5px;width:600px;text-align:center;top:37.6px;font-size:28px;font-weight:bold;color:#fff;">Weekly Attendance</div><div class="t" style="left:-129.0px;width:600px;text-align:center;top:78.3px;font-size:28px;font-weight:bold;color:#fff;">and Punctuality News</div><div class="t" style="left:222.0px;width:600px;text-align:center;top:183.5px;font-size:21.9px;font-weight:bold;color:#150b06;">Week Commencing - 14th October 2024</div><div class="t" style="left:-39.5px;width:600px;text-align:center;top:251.0px;font-size:26px;font-weight:bold;color:#111;"><u>Attendance</u></div><div class="t" style="left:-40.5px;width:600px;text-align:center;top:285.3px;font-size:17.6px;font-style:italic;color:#0f2515;">School Target 94.8%</div><div class="t" style="left:155.4px;top:326.1px;font-size:13.2px;color:#0f2515;">Barn Owls</div><div class="t" style="left:290.8px;top:326.1px;font-size:13.2px;color:#0f2515;">79.62%</div><div class="t" style="left:155.4px;top:353.7px;font-size:13.2px;color:#0f2515;">Moles</div><div class="t" style="left:290.8px;top:353.7px;font-size:13.2px;color:#0f2515;">84.07%</div><div class="t" style="left:155.4px;top:381.3px;font-size:13.2px;color:#0f2515;">Badgers</div><div class="t" style="left:290.8px;top:381.3px;font-size:13.2px;color:#0f2515;">87.69%</div><div class="t" style="left:155.4px;top:408.9px;font-size:13.2px;color:#0f2515;">Woodpeckers</div><div class="t" style="left:290.8px;top:408.9px;font-size:13.2px;color:#0f2515;">94.29%</div><div class="t" style="left:155.4px;top:436.5px;font-size:13.2px;color:#0f2515;">Red Squirrels</div><div class="t" style="left:290.8px;top:436.5px;font-size:13.2px;color:#0f2515;">95.65%</div><div class="t" style="left:155.4px;top:464.1px;font-size:13.2px;color:#0f2515;">Dragonflies</div><div class="t" style="left:290.8px;top:464.1px;font-size:13.2px;color:#0f2515;">86.00%</div><div class="t" style="left:155.4px;top:491.7px;font-size:13.2px;color:#0f2515;">Kingfishers</div><div class="t" style="left:290.8px;top:491.7px;font-size:13.2px;color:#0f2515;">91.6%</div><div class="t" style="left:155.4px;top:519.3px;font-size:13.2px;color:#0f2515;">Buzzards</div><div class="t" style="left:290.8px;top:519.3px;font-size:13.2px;color:#0f2515;">87.6%</div><div class="t" style="left:155.4px;top:546.9px;font-size:13.2px;color:#0f2515;">Otters</div><div class="t" style="left:290.8px;top:546.9px;font-size:13.2px;color:#0f2515;">96.67%</div><div class="t" style="left:155.4px;top:574.5px;font-size:13.2px;color:#0f2515;">Dormice</div><div class="t" style="left:290.8px;top:574.5px;font-size:13.2px;color:#0f2515;">95%</div><div class="t" style="left:155.4px;top:602.1px;font-size:13.2px;color:#0f2515;">Tawny Owls</div><div class="t" style="left:290.8px;top:602.1px;font-size:13.2px;color:#0f2515;">86.96%</div><div class="t" style="left:155.4px;top:629.7px;font-size:13.2px;color:#0f2515;">Red Kites</div><div class="t" style="left:290.8px;top:629.7px;font-size:13.2px;color:#0f2515;">88.75%</div><div class="t" style="left:204.3px;width:600px;text-align:center;top:251.0px;font-size:26px;font-weight:bold;color:#111;"><u>Punctuality</u></div><div class="t" style="left:203.7px;width:600px;text-align:center;top:284.8px;font-size:12px;font-style:italic;color:#2a190b;">Class Target 0 Lates</div><div class="t" style="left:405.4px;top:318.8px;font-size:13.2px;color:#2a190b;">Bumblebees AM</div><div class="t" style="left:539.8px;top:318.8px;font-size:13.2px;color:#2a190b;">0 Lates</div><div class="t" style="left:405.4px;top:339.9px;font-size:13.2px;color:#2a190b;">Bumblebees PM</div><div class="t" style="left:539.8px;top:339.9px;font-size:13.2px;color:#2a190b;">1 Lates</div><div class="t" style="left:405.4px;top:361.0px;font-size:13.2px;color:#2a190b;">Bumblebees FT</div><div class="t" style="left:539.8px;top:361.0px;font-size:13.2px;color:#2a190b;">0 Lates</div><div class="t" style="left:405.4px;top:382.1px;font-size:13.2px;color:#2a190b;">Foxes</div><div class="t" style="left:539.8px;top:382.1px;font-size:13.2px;color:#2a190b;">5 Lates</div><div class="t" style="left:405.4px;top:403.2px;font-size:13.2px;color:#2a190b;">Barn Owls</div><div class="t" style="left:539.8px;top:403.2px;font-size:13.2px;color:#2a190b;">3 Lates</div><div class="t" style="left:405.4px;top:424.3px;font-size:13.2px;color:#2a190b;">Moles</div><div class="t" style="left:539.8px;top:424.3px;font-size:13.2px;color:#2a190b;">1 Lates</div><div class="t" style="left:405.4px;top:445.4px;font-size:13.2px;color:#2a190b;">Badgers</div><div class="t" style="left:539.8px;top:445.4px;font-size:13.2px;color:#2a190b;">2 Lates</div><div class="t" style="left:405.4px;top:466.5px;font-size:13.2px;color:#2a190b;">Woodpeckers</div><div class="t" style="left:539.8px;top:466.5px;font-size:13.2px;color:#2a190b;">2 Lates</div><div class="t" style="left:405.4px;top:487.6px;font-size:13.2px;color:#2a190b;">Red Squirrels</div><div class="t" style="left:539.8px;top:487.6px;font-size:13.2px;color:#2a190b;">5 Lates</div><div class="t" style="left:405.4px;top:508.7px;font-size:13.2px;color:#2a190b;">Dragonflies</div><div class="t" style="left:539.8px;top:508.7px;font-size:13.2px;color:#2a190b;">1 Lates</div><div class="t" style="left:405.4px;top:529.8px;font-size:13.2px;color:#2a190b;">Kingfishers</div><div class="t" style="left:539.8px;top:529.8px;font-size:13.2px;color:#2a190b;">1 Lates</div><div class="t" style="left:405.4px;top:550.9px;font-size:13.2px;color:#2a190b;">Buzzards</div><div class="t" style="left:539.8px;top:550.9px;font-size:13.2px;color:#2a190b;">2 Lates</div><div class="t" style="left:405.4px;top:572.0px;font-size:13.2px;color:#2a190b;">Otters</div><div class="t" style="left:539.8px;top:572.0px;font-size:13.2px;color:#2a190b;">0 Lates</div><div class="t" style="left:405.4px;top:593.1px;font-size:13.2px;color:#2a190b;">Dormice</div><div class="t" style="left:539.8px;top:593.1px;font-size:13.2px;color:#2a190b;">0 Lates</div><div class="t" style="left:405.4px;top:614.2px;font-size:13.2px;color:#2a190b;">Tawny Owls</div><div class="t" style="left:539.8px;top:614.2px;font-size:13.2px;color:#2a190b;">2 Lates</div><div class="t" style="left:405.4px;top:635.3px;font-size:13.2px;color:#2a190b;">Red Kites</div><div class="t" style="left:539.8px;top:635.3px;font-size:13.2px;color:#2a190b;">4 Lates</div><div class="t" style="left:426.4px;width:600px;text-align:center;top:250.1px;font-size:17.2px;font-weight:bold;color:#111;">Congratulations to:</div><div class="t" style="left:426.4px;width:600px;text-align:center;top:287.2px;font-size:11.4px;color:#0c1f1f;">Bumblebees AM</div><div class="t" style="left:426.4px;width:600px;text-align:center;top:302.5px;font-size:11.4px;color:#0c1f1f;">Red Squirrels</div><div class="t" style="left:426.4px;width:600px;text-align:center;top:317.8px;font-size:11.4px;color:#0c1f1f;">Otters</div><div class="t" style="left:426.4px;width:600px;text-align:center;top:349.9px;font-size:17.5px;font-weight:bold;color:#111;">who had excellent</div><div class="t" style="left:426.4px;width:600px;text-align:center;top:374.4px;font-size:17.5px;font-weight:bold;color:#111;">attendance this</div><div class="t" style="left:426.4px;width:600px;text-align:center;top:398.9px;font-size:17.5px;font-weight:bold;color:#111;">week!</div><div class="t" style="left:426.5px;width:600px;text-align:center;top:484.5px;font-size:15.1px;font-weight:bold;color:#111;">Attendance Years 1 &ndash; 6</div><div class="t" style="left:426.5px;width:600px;text-align:center;top:505.5px;font-size:15.1px;font-weight:bold;color:#111;">89.07%</div><div class="t" style="left:426.5px;width:600px;text-align:center;top:548.9px;font-size:15.1px;font-weight:bold;color:#111;">Attendance Nursery</div><div class="t" style="left:426.5px;width:600px;text-align:center;top:569.5px;font-size:15.1px;font-weight:bold;color:#111;">75.38%</div><div class="t" style="left:426.5px;width:600px;text-align:center;top:612.9px;font-size:15.1px;font-weight:bold;color:#111;">Attendance Reception</div><div class="t" style="left:426.5px;width:600px;text-align:center;top:633.9px;font-size:15.1px;font-weight:bold;color:#111;">83.70%</div>
</body></html>
